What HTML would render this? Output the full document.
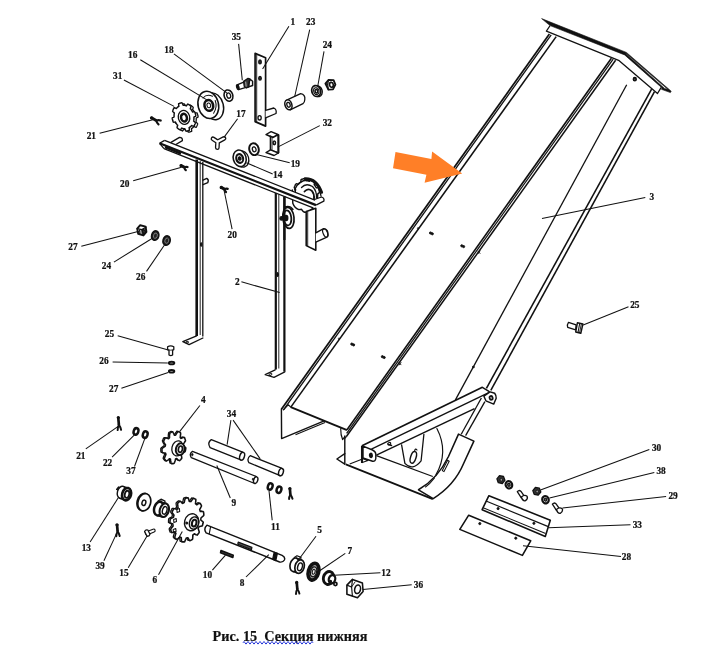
<!DOCTYPE html>
<html><head><meta charset="utf-8"><title>Рис. 15 Секция нижняя</title>
<style>
html,body{margin:0;padding:0;background:#fff;}
body{width:710px;height:649px;overflow:hidden;font-family:"Liberation Serif",serif;}
svg{display:block;}
svg text{font-family:"Liberation Serif",serif;font-weight:bold;fill:#111;}
</style></head><body>
<svg width="710" height="649" viewBox="0 0 710 649">
<defs><filter id="gs" x="-5%" y="-50%" width="110%" height="200%" color-interpolation-filters="sRGB"><feColorMatrix type="saturate" values="0"/></filter></defs>
<rect width="710" height="649" fill="#fff"/>
<path d="M541.6,18.6 L626.4,52.4 L671.2,91.2 L670.4,92.6 L661.4,89.3 L662.0,87.9 L624.6,54.9 L550.0,25.6 Z M626.0,54.0 L664.5,88.4 L668.0,89.6 L625.8,53.2 Z" fill="#111" fill-rule="evenodd" stroke="#111" stroke-width="0.6" stroke-linejoin="round"/>
<path d="M549.8,26.0 L546.4,31.1 L618.6,60.3 L657.5,93.5 L660.9,87.8" fill="none" stroke="#111" stroke-width="1.3" stroke-linejoin="round" stroke-linecap="round"/>
<line x1="549.4" y1="34.1" x2="281.4" y2="409.2" stroke="#111" stroke-width="1.76"/>
<line x1="551.2" y1="34.8" x2="283.5" y2="409.9" stroke="#111" stroke-width="1.3"/>
<line x1="556.2" y1="36.6" x2="290.8" y2="407.1" stroke="#111" stroke-width="1.56"/>
<line x1="611.4" y1="58.2" x2="347.0" y2="429.7" stroke="#111" stroke-width="1.62"/>
<line x1="613.2" y1="59.1" x2="346.6" y2="433.3" stroke="#111" stroke-width="1.23"/>
<line x1="615.6" y1="60.3" x2="346.2" y2="436.8" stroke="#111" stroke-width="1.49"/>
<line x1="626.7" y1="84.7" x2="455.3" y2="400.1" stroke="#111" stroke-width="1.3"/>
<line x1="651.6" y1="89.1" x2="486.4" y2="388.3" stroke="#111" stroke-width="1.56"/>
<line x1="654.5" y1="91.6" x2="490.8" y2="390.3" stroke="#111" stroke-width="1.56"/>
<ellipse cx="634.8" cy="79.2" rx="1.4" ry="1.6" transform="rotate(0 634.8 79.2)" fill="#666" stroke="#111" stroke-width="1.56"/>
<path d="M281.4,409.2 L281.6,438.6 L324.2,420.9" fill="none" stroke="#111" stroke-width="1.43" stroke-linejoin="round" stroke-linecap="round"/>
<path d="M283.4,409.9 L288.2,404.8 L290.8,407.1" fill="none" stroke="#111" stroke-width="1.17" stroke-linejoin="round" stroke-linecap="round"/>
<line x1="290.8" y1="407.1" x2="347.0" y2="430.1" stroke="#111" stroke-width="1.95"/>
<line x1="295.5" y1="434.8" x2="325.0" y2="422.6" stroke="#111" stroke-width="1.04"/>
<path d="M340.7,428.6 Q340.6,435 342.6,439.6 L344.8,436.6" fill="none" stroke="#111" stroke-width="1.17" stroke-linejoin="round" stroke-linecap="round"/>
<line x1="344.8" y1="435.5" x2="344.8" y2="464.4" stroke="#111" stroke-width="1.43"/>
<line x1="346.2" y1="436.8" x2="344.8" y2="438.5" stroke="#111" stroke-width="1.17"/>
<path d="M344.8,453.6 L336.9,459.0 L344.8,464.2" fill="none" stroke="#111" stroke-width="1.43" stroke-linejoin="round" stroke-linecap="round"/>
<line x1="345.8" y1="464.4" x2="432.8" y2="499.1" stroke="#111" stroke-width="1.69"/>
<line x1="349.7" y1="464.0" x2="362.5" y2="459.0" stroke="#111" stroke-width="1.17"/>
<line x1="376.4" y1="455.6" x2="432.8" y2="476.5" stroke="#111" stroke-width="1.3"/>
<path d="M362.2,462.6 L368.0,460.5 L362.2,458.5" fill="none" stroke="#111" stroke-width="1.04" stroke-linejoin="round" stroke-linecap="round"/>
<line x1="362.0" y1="445.7" x2="482.4" y2="387.3" stroke="#111" stroke-width="1.69"/>
<line x1="371.4" y1="449.2" x2="489.3" y2="392.3" stroke="#111" stroke-width="1.3"/>
<line x1="376.4" y1="455.1" x2="474.5" y2="408.6" stroke="#111" stroke-width="1.43"/>
<line x1="362.0" y1="445.7" x2="362.0" y2="463.0" stroke="#111" stroke-width="2.08"/>
<path d="M363.0,446.2 L372.5,450.0 Q375.6,451.4 375.8,454.0 L375.8,458.5 Q375.4,461.6 372.6,461.2 L363.0,458.0 Z" fill="#fff" stroke="#111" stroke-width="1.43" stroke-linejoin="round" stroke-linecap="round"/>
<ellipse cx="370.9" cy="455.4" rx="1.3" ry="2.0" transform="rotate(-10 370.9 455.4)" fill="#111" stroke="#111" stroke-width="1.56"/>
<ellipse cx="389.2" cy="443.7" rx="1.6" ry="1.1" transform="rotate(-25 389.2 443.7)" fill="none" stroke="#111" stroke-width="1.17"/>
<path d="M388.6,444.6 L391.5,445.4" fill="none" stroke="#111" stroke-width="1.56" stroke-linejoin="round" stroke-linecap="round"/>
<path d="M482.4,387.3 L489.3,391.6 L494.7,393.2 Q496.4,395.5 496.2,398.2 L493.7,404.1 L485.9,400.8 L483.9,396.2 L489.3,392.3" fill="#fff" stroke="#111" stroke-width="1.43" stroke-linejoin="round" stroke-linecap="round"/>
<ellipse cx="491.1" cy="397.9" rx="1.5" ry="1.9" transform="rotate(-15 491.1 397.9)" fill="none" stroke="#111" stroke-width="1.82"/>
<line x1="481.4" y1="398.0" x2="461.2" y2="434.2" stroke="#111" stroke-width="1.3"/>
<line x1="484.9" y1="401.6" x2="465.6" y2="435.6" stroke="#111" stroke-width="1.3"/>
<path d="M458.5,434.1 L473.9,441.1 L463.5,463.8 C457.5,478 447,490 433.2,498.6 L418.5,489.8 C432,482 442,470 448.5,456.5 Z" fill="#fff" stroke="#111" stroke-width="1.56" stroke-linejoin="round" stroke-linecap="round"/>
<path d="M442.3,470.6 L447.6,460.3 L449.2,461.2 L444.0,471.6 Z" fill="#fff" stroke="#111" stroke-width="1.04" stroke-linejoin="round" stroke-linecap="round"/>
<path d="M436.9,428.5 Q449,452 435.9,474.9" fill="none" stroke="#111" stroke-width="1.17" stroke-linejoin="round" stroke-linecap="round"/>
<path d="M434.5,478.0 Q430,484 425.5,487.0" fill="none" stroke="#111" stroke-width="1.04" stroke-linejoin="round" stroke-linecap="round"/>
<path d="M401.6,444.8 L404.9,463.4 Q412.5,471.5 421.1,460.8 L423.9,434.3" fill="none" stroke="#111" stroke-width="1.3" stroke-linejoin="round" stroke-linecap="round"/>
<ellipse cx="413.3" cy="457.4" rx="2.7" ry="6.0" transform="rotate(18 413.3 457.4)" fill="none" stroke="#111" stroke-width="1.43"/>
<path d="M414.6,451.0 Q415.2,447.8 417.0,450.0" fill="none" stroke="#111" stroke-width="1.17" stroke-linejoin="round" stroke-linecap="round"/>
<ellipse cx="430.5" cy="233.0" rx="1.1" ry="1.1" transform="rotate(0 430.5 233.0)" fill="#111" stroke="#111" stroke-width="0.91"/>
<ellipse cx="432.3" cy="233.8" rx="1.1" ry="1.1" transform="rotate(0 432.3 233.8)" fill="#111" stroke="#111" stroke-width="0.91"/>
<ellipse cx="461.8" cy="245.8" rx="1.1" ry="1.1" transform="rotate(0 461.8 245.8)" fill="#111" stroke="#111" stroke-width="0.91"/>
<ellipse cx="463.6" cy="246.6" rx="1.1" ry="1.1" transform="rotate(0 463.6 246.6)" fill="#111" stroke="#111" stroke-width="0.91"/>
<ellipse cx="351.8" cy="344.1" rx="1.1" ry="1.1" transform="rotate(0 351.8 344.1)" fill="#111" stroke="#111" stroke-width="0.91"/>
<ellipse cx="353.6" cy="344.9" rx="1.1" ry="1.1" transform="rotate(0 353.6 344.9)" fill="#111" stroke="#111" stroke-width="0.91"/>
<ellipse cx="382.4" cy="356.7" rx="1.1" ry="1.1" transform="rotate(0 382.4 356.7)" fill="#111" stroke="#111" stroke-width="0.91"/>
<ellipse cx="384.2" cy="357.5" rx="1.1" ry="1.1" transform="rotate(0 384.2 357.5)" fill="#111" stroke="#111" stroke-width="0.91"/>
<ellipse cx="418.1" cy="228.4" rx="0.7" ry="0.9" transform="rotate(0 418.1 228.4)" fill="none" stroke="#111" stroke-width="0.78"/>
<ellipse cx="339.0" cy="338.8" rx="0.7" ry="0.9" transform="rotate(0 339.0 338.8)" fill="none" stroke="#111" stroke-width="0.78"/>
<path d="M478.0,251.2 L480.0,253.4 M480.0,251.0 L478.2,253.6" fill="none" stroke="#111" stroke-width="0.91" stroke-linejoin="round" stroke-linecap="round"/>
<path d="M399.0,362.6 L401.0,364.8 M401.0,362.4 L399.2,365.0" fill="none" stroke="#111" stroke-width="0.91" stroke-linejoin="round" stroke-linecap="round"/>
<ellipse cx="473.4" cy="367.0" rx="0.8" ry="0.8" transform="rotate(0 473.4 367.0)" fill="#111" stroke="#111" stroke-width="1.04"/>
<path d="M395.5,152.1 L431.4,158.9 L432.1,151.4 L462.2,173.5 L424.6,182.7 L426.4,174.7 L393.0,168.2 Z" fill="#ff7f27"/>
<path d="M319.2,190.8 L319.3,191.2 L319.4,191.5 L319.4,191.9 L319.5,192.2 L319.3,192.6 L318.8,193.0 L318.4,193.4 L317.9,193.7 L317.8,194.0 L317.8,194.3 L317.8,194.6 L317.7,194.9 L317.7,195.3 L317.7,195.6 L317.7,195.9 L317.6,196.2 L317.6,196.5 L317.5,196.8 L317.5,197.1 L317.4,197.4 L317.6,197.8 L318.0,198.3 L318.3,198.8 L318.7,199.3 L318.7,199.7 L318.6,200.1 L318.4,200.4 L318.3,200.7 L318.2,201.0 L318.0,201.4 L317.9,201.7 L317.7,202.0 L317.5,202.3 L317.4,202.6 L317.2,202.8 L317.0,203.1 L316.6,203.2 L316.0,203.1 L315.5,203.0 L314.9,202.8 L314.6,202.9 L314.4,203.1 L314.2,203.3 L314.0,203.5 L313.8,203.7 L313.6,203.9 L313.4,204.1 L313.2,204.3 L312.9,204.4 L312.7,204.6 L312.5,204.8 L312.2,204.9 L312.1,205.3 L312.1,205.9 L312.0,206.6 L312.0,207.2 L311.7,207.5 L311.5,207.6 L311.2,207.7 L310.9,207.8 L310.5,207.9 L310.2,208.0 L309.9,208.1 L309.6,208.2 L309.3,208.2 L309.0,208.3 L308.7,208.3 L308.4,208.4 L308.0,208.1 L307.7,207.6 L307.3,207.0 L307.0,206.5 L306.7,206.3 L306.4,206.3 L306.2,206.3 L305.9,206.2 L305.6,206.2 L305.3,206.2 L305.1,206.1 L304.8,206.0 L304.5,206.0 L304.2,205.9 L304.0,205.8 L303.7,205.7 L303.4,205.9 L303.0,206.3 L302.5,206.7 L302.1,207.0 L301.7,207.1 L301.4,206.9 L301.1,206.7 L300.8,206.6 L300.6,206.4 L300.3,206.2 L300.0,206.0 L299.7,205.8 L299.4,205.6 L299.2,205.4 L298.9,205.1 L298.6,204.9 L298.5,204.4 L298.6,203.8 L298.7,203.2 L298.8,202.6 L298.7,202.2 L298.5,202.0 L298.3,201.7 L298.1,201.5 L297.9,201.2 L297.8,201.0 L297.6,200.7 L297.4,200.5 L297.3,200.2 L297.1,199.9 L297.0,199.7 L296.8,199.4 L296.5,199.2 L295.9,199.2 L295.3,199.1 L294.8,198.9 L294.5,198.7 L294.4,198.3 L294.3,198.0 L294.2,197.6 L294.0,197.3 L294.0,196.9 L293.9,196.6 L293.8,196.2 L293.7,195.8 L293.6,195.5 L293.6,195.1 L293.5,194.8 L293.7,194.4 L294.2,194.0 L294.6,193.6 L295.1,193.3 L295.2,193.0 L295.2,192.7 L295.2,192.4 L295.3,192.1 L295.3,191.7 L295.3,191.4 L295.3,191.1 L295.4,190.8 L295.4,190.5 L295.5,190.2 L295.5,189.9 L295.6,189.6 L295.4,189.2 L295.0,188.7 L294.7,188.2 L294.3,187.7 L294.3,187.3 L294.4,186.9 L294.6,186.6 L294.7,186.3 L294.8,186.0 L295.0,185.6 L295.1,185.3 L295.3,185.0 L295.5,184.7 L295.6,184.4 L295.8,184.2 L296.0,183.9 L296.4,183.8 L297.0,183.9 L297.5,184.0 L298.1,184.2 L298.4,184.1 L298.6,183.9 L298.8,183.7 L299.0,183.5 L299.2,183.3 L299.4,183.1 L299.6,182.9 L299.8,182.7 L300.1,182.6 L300.3,182.4 L300.5,182.2 L300.8,182.1 L300.9,181.7 L300.9,181.1 L301.0,180.4 L301.0,179.8 L301.3,179.5 L301.5,179.4 L301.8,179.3 L302.1,179.2 L302.5,179.1 L302.8,179.0 L303.1,178.9 L303.4,178.8 L303.7,178.8 L304.0,178.7 L304.3,178.7 L304.6,178.6 L305.0,178.9 L305.3,179.4 L305.7,180.0 L306.0,180.5 L306.3,180.7 L306.6,180.7 L306.8,180.7 L307.1,180.8 L307.4,180.8 L307.7,180.8 L307.9,180.9 L308.2,181.0 L308.5,181.0 L308.8,181.1 L309.0,181.2 L309.3,181.3 L309.6,181.1 L310.0,180.7 L310.5,180.3 L310.9,180.0 L311.3,179.9 L311.6,180.1 L311.9,180.3 L312.2,180.4 L312.4,180.6 L312.7,180.8 L313.0,181.0 L313.3,181.2 L313.6,181.4 L313.8,181.6 L314.1,181.9 L314.4,182.1 L314.5,182.6 L314.4,183.2 L314.3,183.8 L314.2,184.4 L314.3,184.8 L314.5,185.0 L314.7,185.3 L314.9,185.5 L315.1,185.8 L315.2,186.0 L315.4,186.3 L315.6,186.5 L315.7,186.8 L315.9,187.1 L316.0,187.3 L316.2,187.6 L316.5,187.8 L317.1,187.8 L317.7,187.9 L318.2,188.1 L318.5,188.3 L318.6,188.7 L318.7,189.0 L318.8,189.4 L319.0,189.7 L319.0,190.1 L319.1,190.4 Z" fill="#fff" stroke="#111" stroke-width="1.43" stroke-linejoin="round" stroke-linecap="round"/>
<path d="M294.5,190 Q298,180.5 308,180 Q318.5,181.5 321.0,196" fill="none" stroke="#111" stroke-width="1.3" stroke-linejoin="round" stroke-linecap="round"/>
<path d="M305.0,178.6 Q316.5,178.0 321.8,192.5" fill="none" stroke="#111" stroke-width="2.6" stroke-linejoin="round" stroke-linecap="round"/>
<path d="M301.5,187.5 Q306,182.5 312.5,186.5 Q317,191 316.5,198" fill="none" stroke="#111" stroke-width="1.3" stroke-linejoin="round" stroke-linecap="round"/>
<path d="M304.5,191.5 Q308,187.5 312.0,191.0 Q314.5,194 314.0,199" fill="none" stroke="#111" stroke-width="1.82" stroke-linejoin="round" stroke-linecap="round"/>
<path d="M292.3,190.0 L292.8,203.2 Q294.5,207.8 298.8,209.6 L301.5,209.2 Q303.0,212.4 306.0,212.4 L309.0,212.0 Q310.5,209.6 313.4,207.8" fill="#fff" stroke="#111" stroke-width="1.43" stroke-linejoin="round" stroke-linecap="round"/>
<path d="M171.0,142.4 L179.5,137.4 Q182.8,137.6 182.4,140.6 L174.6,145.2" fill="#fff" stroke="#111" stroke-width="1.3" stroke-linejoin="round" stroke-linecap="round"/>
<path d="M159.6,143.3 L164.6,140.4 L318.0,201.3 L316.0,205.1 L313.1,207.9 L164.0,148.6 Z" fill="#fff" stroke="#fff" stroke-width="0.13" stroke-linejoin="round" stroke-linecap="round"/>
<line x1="164.6" y1="140.4" x2="318.0" y2="201.3" stroke="#111" stroke-width="1.3"/>
<line x1="159.6" y1="143.3" x2="316.0" y2="205.1" stroke="#111" stroke-width="2.21"/>
<line x1="164.0" y1="148.6" x2="313.1" y2="207.9" stroke="#111" stroke-width="1.3"/>
<line x1="159.6" y1="143.3" x2="164.6" y2="140.4" stroke="#111" stroke-width="1.3"/>
<line x1="159.6" y1="143.3" x2="164.0" y2="148.6" stroke="#111" stroke-width="1.3"/>
<line x1="165.0" y1="147.2" x2="181.0" y2="153.6" stroke="#111" stroke-width="2.34"/>
<path d="M314.5,199.5 L321.5,197.0 Q324.8,198.2 323.8,201.2 L316.5,204.8" fill="#fff" stroke="#111" stroke-width="1.3" stroke-linejoin="round" stroke-linecap="round"/>
<line x1="196.7" y1="159.5" x2="196.7" y2="336.0" stroke="#111" stroke-width="2.6"/>
<line x1="200.2" y1="161.0" x2="200.2" y2="335.0" stroke="#111" stroke-width="0.91"/>
<line x1="202.8" y1="162.0" x2="202.8" y2="336.6" stroke="#111" stroke-width="1.3"/>
<path d="M196.6,335.8 L182.8,341.6 L189.1,344.6 L202.9,338.0" fill="none" stroke="#111" stroke-width="1.3" stroke-linejoin="round" stroke-linecap="round"/>
<ellipse cx="187.2" cy="342.3" rx="1.3" ry="0.8" transform="rotate(-20 187.2 342.3)" fill="none" stroke="#111" stroke-width="0.91"/>
<ellipse cx="201.2" cy="244.5" rx="0.7" ry="1.8" transform="rotate(0 201.2 244.5)" fill="#111" stroke="#111" stroke-width="1.04"/>
<path d="M203,180.2 L206.8,178.4 Q209.2,179.8 207.8,182.6 L203,184.6" fill="none" stroke="#111" stroke-width="1.3" stroke-linejoin="round" stroke-linecap="round"/>
<line x1="275.8" y1="193.0" x2="275.8" y2="369.5" stroke="#111" stroke-width="2.21"/>
<line x1="278.8" y1="194.5" x2="278.8" y2="368.5" stroke="#111" stroke-width="0.91"/>
<line x1="284.4" y1="196.5" x2="284.4" y2="371.6" stroke="#111" stroke-width="2.21"/>
<path d="M275.2,369.8 L265.2,374.6 L274.0,377.3 L284.8,371.8" fill="none" stroke="#111" stroke-width="1.3" stroke-linejoin="round" stroke-linecap="round"/>
<ellipse cx="270.5" cy="374.4" rx="1.5" ry="0.9" transform="rotate(-20 270.5 374.4)" fill="none" stroke="#111" stroke-width="0.91"/>
<ellipse cx="277.6" cy="274.5" rx="0.8" ry="2.0" transform="rotate(0 277.6 274.5)" fill="#111" stroke="#111" stroke-width="1.04"/>
<path d="M306.2,211.6 L315.8,208.3 L315.8,250.3 L306.2,245.6 Z" fill="#fff" stroke="#111" stroke-width="1.56" stroke-linejoin="round" stroke-linecap="round"/>
<line x1="307.7" y1="211.4" x2="307.7" y2="246.2" stroke="#111" stroke-width="0.91"/>
<path d="M315.8,232.8 L323.6,228.6 Q328.6,229.6 327.9,235.0 Q327.6,237.0 326.4,237.4 L315.8,242.2" fill="#fff" stroke="#111" stroke-width="1.43" stroke-linejoin="round" stroke-linecap="round"/>
<ellipse cx="325.3" cy="233.0" rx="2.2" ry="4.4" transform="rotate(-22 325.3 233.0)" fill="none" stroke="#111" stroke-width="1.17"/>
<path d="M284.5,207.0 Q290,205.0 293.0,209.5" fill="none" stroke="#111" stroke-width="1.43" stroke-linejoin="round" stroke-linecap="round"/>
<ellipse cx="288.4" cy="217.9" rx="5.6" ry="10.6" transform="rotate(-6 288.4 217.9)" fill="#fff" stroke="#111" stroke-width="1.69"/>
<ellipse cx="287.4" cy="217.9" rx="3.9" ry="7.6" transform="rotate(-6 287.4 217.9)" fill="none" stroke="#111" stroke-width="1.82"/>
<ellipse cx="286.2" cy="218.0" rx="1.6" ry="2.6" transform="rotate(0 286.2 218.0)" fill="#111" stroke="#111" stroke-width="1.3"/>
<ellipse cx="281.6" cy="218.4" rx="1.7" ry="1.7" transform="rotate(0 281.6 218.4)" fill="#111" stroke="#111" stroke-width="1.3"/>
<line x1="284.4" y1="196.5" x2="284.4" y2="240.0" stroke="#111" stroke-width="2.21"/>
<path d="M255.1,53.4 L265.6,57.7 L265.6,126.1 L255.1,121.6 Z" fill="#fff" stroke="#111" stroke-width="1.69" stroke-linejoin="round" stroke-linecap="round"/>
<line x1="256.7" y1="54.5" x2="256.7" y2="122.0" stroke="#111" stroke-width="0.91"/>
<ellipse cx="260.0" cy="61.9" rx="1.3" ry="1.9" transform="rotate(0 260.0 61.9)" fill="#333" stroke="#111" stroke-width="1.3"/>
<ellipse cx="260.0" cy="78.2" rx="1.3" ry="1.9" transform="rotate(0 260.0 78.2)" fill="#333" stroke="#111" stroke-width="1.3"/>
<ellipse cx="259.6" cy="117.8" rx="1.6" ry="2.2" transform="rotate(0 259.6 117.8)" fill="none" stroke="#111" stroke-width="1.3"/>
<path d="M265.6,110.3 L273.8,108.0 Q277.0,109.5 276.0,113.5 L265.6,117.8" fill="#fff" stroke="#111" stroke-width="1.3" stroke-linejoin="round" stroke-linecap="round"/>
<path d="M237.7,84.6 L247.3,80.6 L247.6,86.9 L238.6,89.7 Z" fill="#fff" stroke="#111" stroke-width="1.3" stroke-linejoin="round" stroke-linecap="round"/>
<ellipse cx="237.8" cy="87.1" rx="1.2" ry="2.5" transform="rotate(-15 237.8 87.1)" fill="#111" stroke="#111" stroke-width="1.17"/>
<path d="M243.6,81.4 L248.1,78.3 L249.8,79.0 L248.7,86.9 L246.4,88.0 L244.2,86.2 Z" fill="#333" stroke="#111" stroke-width="1.3" stroke-linejoin="round" stroke-linecap="round"/>
<line x1="245.6" y1="81.6" x2="246.2" y2="86.6" stroke="#aaa" stroke-width="1.04"/>
<path d="M249.8,79.0 L252.6,81.3 L252.6,85.5 L248.7,86.9 Z" fill="#fff" stroke="#111" stroke-width="1.43" stroke-linejoin="round" stroke-linecap="round"/>
<ellipse cx="228.5" cy="95.6" rx="4.3" ry="5.8" transform="rotate(-18 228.5 95.6)" fill="#fff" stroke="#111" stroke-width="1.56"/>
<ellipse cx="228.7" cy="95.6" rx="1.9" ry="2.7" transform="rotate(-18 228.7 95.6)" fill="none" stroke="#111" stroke-width="1.3"/>
<ellipse cx="213.6" cy="106.3" rx="9.8" ry="13.6" transform="rotate(-14 213.6 106.3)" fill="#fff" stroke="#111" stroke-width="1.43"/>
<ellipse cx="208.3" cy="104.9" rx="10.2" ry="13.8" transform="rotate(-14 208.3 104.9)" fill="#fff" stroke="#111" stroke-width="1.56"/>
<path d="M203.0,98.0 Q206.5,93.8 212.5,96.2" fill="none" stroke="#111" stroke-width="1.04" stroke-linejoin="round" stroke-linecap="round"/>
<path d="M215.2,100.5 Q217.6,107 213.6,113.2" fill="none" stroke="#111" stroke-width="1.04" stroke-linejoin="round" stroke-linecap="round"/>
<ellipse cx="208.8" cy="105.4" rx="4.3" ry="5.4" transform="rotate(-14 208.8 105.4)" fill="#fff" stroke="#111" stroke-width="2.6"/>
<ellipse cx="208.8" cy="105.4" rx="1.8" ry="2.4" transform="rotate(-14 208.8 105.4)" fill="none" stroke="#111" stroke-width="1.04"/>
<path d="M197.7,114.9 L197.8,115.3 L197.9,115.6 L197.9,116.0 L198.0,116.3 L198.1,116.7 L198.1,117.0 L197.7,117.4 L196.9,117.7 L196.2,118.1 L196.2,118.3 L196.2,118.6 L196.3,118.9 L196.3,119.2 L196.2,119.5 L196.2,119.8 L196.2,120.1 L196.2,120.4 L196.2,120.6 L196.1,120.9 L196.1,121.2 L196.1,121.5 L196.0,121.8 L195.9,122.0 L196.6,122.6 L197.3,123.3 L197.7,123.8 L197.6,124.1 L197.5,124.5 L197.4,124.8 L197.2,125.1 L197.1,125.4 L197.0,125.7 L196.9,126.0 L196.7,126.3 L196.6,126.5 L196.4,126.8 L196.3,127.1 L196.1,127.4 L195.5,127.2 L194.7,126.8 L194.0,126.4 L193.8,126.6 L193.7,126.8 L193.5,127.0 L193.3,127.2 L193.1,127.4 L193.0,127.5 L192.8,127.7 L192.6,127.9 L192.4,128.0 L192.2,128.2 L192.0,128.3 L191.8,128.5 L191.6,128.6 L191.4,128.7 L191.6,129.7 L191.7,130.7 L191.7,131.3 L191.4,131.4 L191.1,131.5 L190.9,131.6 L190.6,131.7 L190.3,131.8 L190.0,131.9 L189.7,132.0 L189.5,132.0 L189.2,132.1 L188.9,132.1 L188.6,132.2 L188.3,132.2 L188.0,131.7 L187.6,130.7 L187.2,129.8 L187.0,129.8 L186.8,129.8 L186.5,129.8 L186.3,129.8 L186.0,129.7 L185.8,129.7 L185.5,129.6 L185.3,129.6 L185.1,129.5 L184.8,129.5 L184.6,129.4 L184.3,129.3 L184.1,129.2 L183.9,129.1 L183.4,129.9 L182.9,130.6 L182.5,131.0 L182.2,130.8 L182.0,130.7 L181.7,130.5 L181.4,130.4 L181.1,130.2 L180.9,130.0 L180.6,129.8 L180.4,129.6 L180.1,129.4 L179.9,129.2 L179.6,129.0 L179.4,128.7 L179.4,128.1 L179.7,127.2 L180.0,126.3 L179.8,126.1 L179.6,125.9 L179.4,125.7 L179.2,125.5 L179.1,125.2 L178.9,125.0 L178.7,124.8 L178.6,124.5 L178.4,124.3 L178.3,124.0 L178.1,123.8 L178.0,123.5 L177.9,123.3 L177.7,123.0 L177.0,123.1 L176.1,123.2 L175.6,123.1 L175.4,122.7 L175.3,122.4 L175.2,122.1 L175.1,121.7 L175.0,121.4 L174.9,121.1 L174.8,120.7 L174.7,120.4 L174.7,120.0 L174.6,119.7 L174.5,119.3 L174.5,119.0 L174.9,118.6 L175.7,118.3 L176.4,117.9 L176.4,117.7 L176.4,117.4 L176.3,117.1 L176.3,116.8 L176.4,116.5 L176.4,116.2 L176.4,115.9 L176.4,115.6 L176.4,115.4 L176.5,115.1 L176.5,114.8 L176.5,114.5 L176.6,114.2 L176.7,114.0 L176.0,113.4 L175.3,112.7 L174.9,112.2 L175.0,111.9 L175.1,111.5 L175.2,111.2 L175.4,110.9 L175.5,110.6 L175.6,110.3 L175.7,110.0 L175.9,109.7 L176.0,109.5 L176.2,109.2 L176.3,108.9 L176.5,108.6 L177.1,108.8 L177.9,109.2 L178.6,109.6 L178.8,109.4 L178.9,109.2 L179.1,109.0 L179.3,108.8 L179.5,108.6 L179.6,108.5 L179.8,108.3 L180.0,108.1 L180.2,108.0 L180.4,107.8 L180.6,107.7 L180.8,107.5 L181.0,107.4 L181.2,107.3 L181.0,106.3 L180.9,105.3 L180.9,104.7 L181.2,104.6 L181.5,104.5 L181.7,104.4 L182.0,104.3 L182.3,104.2 L182.6,104.1 L182.9,104.0 L183.1,104.0 L183.4,103.9 L183.7,103.9 L184.0,103.8 L184.3,103.8 L184.6,104.3 L185.0,105.3 L185.4,106.2 L185.6,106.2 L185.8,106.2 L186.1,106.2 L186.3,106.2 L186.6,106.3 L186.8,106.3 L187.1,106.4 L187.3,106.4 L187.5,106.5 L187.8,106.5 L188.0,106.6 L188.3,106.7 L188.5,106.8 L188.7,106.9 L189.2,106.1 L189.7,105.4 L190.1,105.0 L190.4,105.2 L190.6,105.3 L190.9,105.5 L191.2,105.6 L191.5,105.8 L191.7,106.0 L192.0,106.2 L192.2,106.4 L192.5,106.6 L192.7,106.8 L193.0,107.0 L193.2,107.3 L193.2,107.9 L192.9,108.8 L192.6,109.7 L192.8,109.9 L193.0,110.1 L193.2,110.3 L193.4,110.5 L193.5,110.8 L193.7,111.0 L193.9,111.2 L194.0,111.5 L194.2,111.7 L194.3,112.0 L194.5,112.2 L194.6,112.5 L194.7,112.7 L194.9,113.0 L195.6,112.9 L196.5,112.8 L197.0,112.9 L197.2,113.3 L197.3,113.6 L197.4,113.9 L197.5,114.3 L197.6,114.6 Z" fill="#fff" stroke="#111" stroke-width="1.3" stroke-linejoin="round" stroke-linecap="round"/>
<path d="M195.4,113.9 L195.5,114.3 L195.6,114.6 L195.6,115.0 L195.7,115.3 L195.8,115.7 L195.8,116.0 L195.4,116.4 L194.6,116.7 L193.9,117.1 L193.9,117.3 L193.9,117.6 L194.0,117.9 L194.0,118.2 L193.9,118.5 L193.9,118.8 L193.9,119.1 L193.9,119.4 L193.9,119.6 L193.8,119.9 L193.8,120.2 L193.8,120.5 L193.7,120.8 L193.6,121.0 L194.3,121.6 L195.0,122.3 L195.4,122.8 L195.3,123.1 L195.2,123.5 L195.1,123.8 L194.9,124.1 L194.8,124.4 L194.7,124.7 L194.6,125.0 L194.4,125.3 L194.3,125.5 L194.1,125.8 L194.0,126.1 L193.8,126.4 L193.2,126.2 L192.4,125.8 L191.7,125.4 L191.5,125.6 L191.4,125.8 L191.2,126.0 L191.0,126.2 L190.8,126.4 L190.7,126.5 L190.5,126.7 L190.3,126.9 L190.1,127.0 L189.9,127.2 L189.7,127.3 L189.5,127.5 L189.3,127.6 L189.1,127.7 L189.3,128.7 L189.4,129.7 L189.4,130.3 L189.1,130.4 L188.8,130.5 L188.6,130.6 L188.3,130.7 L188.0,130.8 L187.7,130.9 L187.4,131.0 L187.2,131.0 L186.9,131.1 L186.6,131.1 L186.3,131.2 L186.0,131.2 L185.7,130.7 L185.3,129.7 L184.9,128.8 L184.7,128.8 L184.5,128.8 L184.2,128.8 L184.0,128.8 L183.7,128.7 L183.5,128.7 L183.2,128.6 L183.0,128.6 L182.8,128.5 L182.5,128.5 L182.3,128.4 L182.0,128.3 L181.8,128.2 L181.6,128.1 L181.1,128.9 L180.6,129.6 L180.2,130.0 L179.9,129.8 L179.7,129.7 L179.4,129.5 L179.1,129.4 L178.8,129.2 L178.6,129.0 L178.3,128.8 L178.1,128.6 L177.8,128.4 L177.6,128.2 L177.3,128.0 L177.1,127.7 L177.1,127.1 L177.4,126.2 L177.7,125.3 L177.5,125.1 L177.3,124.9 L177.1,124.7 L176.9,124.5 L176.8,124.2 L176.6,124.0 L176.4,123.8 L176.3,123.5 L176.1,123.3 L176.0,123.0 L175.8,122.8 L175.7,122.5 L175.6,122.3 L175.4,122.0 L174.7,122.1 L173.8,122.2 L173.3,122.1 L173.1,121.7 L173.0,121.4 L172.9,121.1 L172.8,120.7 L172.7,120.4 L172.6,120.1 L172.5,119.7 L172.4,119.4 L172.4,119.0 L172.3,118.7 L172.2,118.3 L172.2,118.0 L172.6,117.6 L173.4,117.3 L174.1,116.9 L174.1,116.7 L174.1,116.4 L174.0,116.1 L174.0,115.8 L174.1,115.5 L174.1,115.2 L174.1,114.9 L174.1,114.6 L174.1,114.4 L174.2,114.1 L174.2,113.8 L174.2,113.5 L174.3,113.2 L174.4,113.0 L173.7,112.4 L173.0,111.7 L172.6,111.2 L172.7,110.9 L172.8,110.5 L172.9,110.2 L173.1,109.9 L173.2,109.6 L173.3,109.3 L173.4,109.0 L173.6,108.7 L173.7,108.5 L173.9,108.2 L174.0,107.9 L174.2,107.6 L174.8,107.8 L175.6,108.2 L176.3,108.6 L176.5,108.4 L176.6,108.2 L176.8,108.0 L177.0,107.8 L177.2,107.6 L177.3,107.5 L177.5,107.3 L177.7,107.1 L177.9,107.0 L178.1,106.8 L178.3,106.7 L178.5,106.5 L178.7,106.4 L178.9,106.3 L178.7,105.3 L178.6,104.3 L178.6,103.7 L178.9,103.6 L179.2,103.5 L179.4,103.4 L179.7,103.3 L180.0,103.2 L180.3,103.1 L180.6,103.0 L180.8,103.0 L181.1,102.9 L181.4,102.9 L181.7,102.8 L182.0,102.8 L182.3,103.3 L182.7,104.3 L183.1,105.2 L183.3,105.2 L183.5,105.2 L183.8,105.2 L184.0,105.2 L184.3,105.3 L184.5,105.3 L184.8,105.4 L185.0,105.4 L185.2,105.5 L185.5,105.5 L185.7,105.6 L186.0,105.7 L186.2,105.8 L186.4,105.9 L186.9,105.1 L187.4,104.4 L187.8,104.0 L188.1,104.2 L188.3,104.3 L188.6,104.5 L188.9,104.6 L189.2,104.8 L189.4,105.0 L189.7,105.2 L189.9,105.4 L190.2,105.6 L190.4,105.8 L190.7,106.0 L190.9,106.3 L190.9,106.9 L190.6,107.8 L190.3,108.7 L190.5,108.9 L190.7,109.1 L190.9,109.3 L191.1,109.5 L191.2,109.8 L191.4,110.0 L191.6,110.2 L191.7,110.5 L191.9,110.7 L192.0,111.0 L192.2,111.2 L192.3,111.5 L192.4,111.7 L192.6,112.0 L193.3,111.9 L194.2,111.8 L194.7,111.9 L194.9,112.3 L195.0,112.6 L195.1,112.9 L195.2,113.3 L195.3,113.6 Z" fill="#fff" stroke="#111" stroke-width="1.43" stroke-linejoin="round" stroke-linecap="round"/>
<ellipse cx="184.0" cy="117.4" rx="5.7" ry="7.0" transform="rotate(-15 184.0 117.4)" fill="none" stroke="#111" stroke-width="1.3"/>
<ellipse cx="184.0" cy="117.7" rx="2.9" ry="3.9" transform="rotate(-15 184.0 117.7)" fill="none" stroke="#111" stroke-width="2.47"/>
<line x1="151.0" y1="117.5" x2="156.2" y2="120.5" stroke="#111" stroke-width="2.99"/>
<path d="M156.2,120.5 Q156.9,123.2 158.5,124.4" fill="none" stroke="#111" stroke-width="2.21" stroke-linejoin="round" stroke-linecap="round"/>
<path d="M156.2,120.5 Q158.9,119.8 160.7,120.6" fill="none" stroke="#111" stroke-width="2.21" stroke-linejoin="round" stroke-linecap="round"/>
<ellipse cx="151.5" cy="117.8" rx="1.1" ry="1.1" transform="rotate(0 151.5 117.8)" fill="#111" stroke="#111" stroke-width="1.04"/>
<line x1="180.5" y1="165.3" x2="184.2" y2="167.2" stroke="#111" stroke-width="2.99"/>
<path d="M184.2,167.2 Q184.7,169.3 185.8,170.1" fill="none" stroke="#111" stroke-width="2.21" stroke-linejoin="round" stroke-linecap="round"/>
<path d="M184.2,167.2 Q186.2,166.5 187.5,167.0" fill="none" stroke="#111" stroke-width="2.21" stroke-linejoin="round" stroke-linecap="round"/>
<ellipse cx="181.0" cy="165.5" rx="1.1" ry="1.1" transform="rotate(0 181.0 165.5)" fill="#111" stroke="#111" stroke-width="1.04"/>
<line x1="220.7" y1="187.2" x2="224.4" y2="189.1" stroke="#111" stroke-width="2.99"/>
<path d="M224.4,189.1 Q224.9,191.2 226.0,192.0" fill="none" stroke="#111" stroke-width="2.21" stroke-linejoin="round" stroke-linecap="round"/>
<path d="M224.4,189.1 Q226.4,188.4 227.7,188.9" fill="none" stroke="#111" stroke-width="2.21" stroke-linejoin="round" stroke-linecap="round"/>
<ellipse cx="221.2" cy="187.4" rx="1.1" ry="1.1" transform="rotate(0 221.2 187.4)" fill="#111" stroke="#111" stroke-width="1.04"/>
<path d="M213.0,138.8 L217.6,141.8 L217.3,147.6 M217.6,141.8 L224.0,138.4" fill="none" stroke="#111" stroke-width="4.8" stroke-linecap="round" stroke-linejoin="round"/>
<path d="M213.0,138.8 L217.6,141.8 L217.3,147.6 M217.6,141.8 L224.0,138.4" fill="none" stroke="#fff" stroke-width="2.2" stroke-linecap="round" stroke-linejoin="round"/>
<ellipse cx="242.5" cy="159.0" rx="6.2" ry="8.2" transform="rotate(-15 242.5 159.0)" fill="#fff" stroke="#111" stroke-width="1.3"/>
<ellipse cx="239.7" cy="158.3" rx="6.4" ry="8.4" transform="rotate(-15 239.7 158.3)" fill="#fff" stroke="#111" stroke-width="1.56"/>
<ellipse cx="239.7" cy="158.5" rx="3.4" ry="4.4" transform="rotate(-15 239.7 158.5)" fill="none" stroke="#111" stroke-width="2.08"/>
<ellipse cx="239.7" cy="158.5" rx="1.3" ry="1.7" transform="rotate(-15 239.7 158.5)" fill="#111" stroke="#111" stroke-width="1.3"/>
<ellipse cx="254.0" cy="149.2" rx="4.7" ry="6.0" transform="rotate(-15 254.0 149.2)" fill="#fff" stroke="#111" stroke-width="1.95"/>
<ellipse cx="254.2" cy="149.3" rx="1.8" ry="2.5" transform="rotate(-15 254.2 149.3)" fill="none" stroke="#111" stroke-width="1.3"/>
<path d="M266.0,134.5 L271.1,131.6 L277.9,134.5 L272.8,137.5 Z" fill="#fff" stroke="#111" stroke-width="1.43" stroke-linejoin="round" stroke-linecap="round"/>
<path d="M270.4,136.2 L270.4,150.2 L278.4,153.0 L278.4,134.6 L272.8,137.5 Z" fill="#fff" stroke="#111" stroke-width="1.43" stroke-linejoin="round" stroke-linecap="round"/>
<line x1="278.4" y1="134.6" x2="278.4" y2="153.0" stroke="#111" stroke-width="1.95"/>
<line x1="272.0" y1="137.4" x2="272.0" y2="150.4" stroke="#111" stroke-width="0.91"/>
<path d="M266.0,152.5 L270.6,149.9 L278.4,153.0 L274.1,155.5 Z" fill="#fff" stroke="#111" stroke-width="1.43" stroke-linejoin="round" stroke-linecap="round"/>
<ellipse cx="274.3" cy="142.8" rx="1.2" ry="1.8" transform="rotate(0 274.3 142.8)" fill="none" stroke="#111" stroke-width="1.56"/>
<path d="M287.2,99.8 L300.6,93.6 Q305.5,94.5 304.8,99.5 Q304.6,102.8 303.0,103.6 L290.2,109.8" fill="#fff" stroke="#111" stroke-width="1.3" stroke-linejoin="round" stroke-linecap="round"/>
<ellipse cx="288.4" cy="104.8" rx="3.4" ry="5.1" transform="rotate(-18 288.4 104.8)" fill="#fff" stroke="#111" stroke-width="1.56"/>
<ellipse cx="288.5" cy="104.8" rx="1.6" ry="2.5" transform="rotate(-18 288.5 104.8)" fill="none" stroke="#111" stroke-width="1.3"/>
<ellipse cx="317.9" cy="91.3" rx="4.3" ry="5.4" transform="rotate(-15 317.9 91.3)" fill="#fff" stroke="#111" stroke-width="1.43"/>
<ellipse cx="316.2" cy="91.0" rx="4.4" ry="5.5" transform="rotate(-15 316.2 91.0)" fill="#fff" stroke="#111" stroke-width="1.82"/>
<ellipse cx="316.3" cy="91.1" rx="2.6" ry="3.4" transform="rotate(-15 316.3 91.1)" fill="none" stroke="#111" stroke-width="1.04"/>
<ellipse cx="316.4" cy="91.2" rx="1.3" ry="1.8" transform="rotate(-15 316.4 91.2)" fill="none" stroke="#111" stroke-width="1.56"/>
<path d="M325.4,83.6 L328.6,79.8 L333.6,80.2 L335.4,84.6 L333.0,89.4 L328.4,89.6 Z" fill="#fff" stroke="#111" stroke-width="1.82" stroke-linejoin="round" stroke-linecap="round"/>
<path d="M328.6,79.8 L327.6,84.4 L328.4,89.6" fill="none" stroke="#111" stroke-width="1.17" stroke-linejoin="round" stroke-linecap="round"/>
<line x1="325.4" y1="83.6" x2="327.6" y2="84.4" stroke="#111" stroke-width="1.17"/>
<ellipse cx="331.4" cy="84.8" rx="1.9" ry="2.5" transform="rotate(-12 331.4 84.8)" fill="none" stroke="#111" stroke-width="1.69"/>
<path d="M137.2,228.6 L140.2,225.2 L145.6,226.6 L146.4,231.8 L143.4,235.4 L138.2,233.8 Z" fill="#fff" stroke="#111" stroke-width="1.95" stroke-linejoin="round" stroke-linecap="round"/>
<path d="M137.2,228.6 L141.8,229.6 L146.0,227.2" fill="none" stroke="#111" stroke-width="1.3" stroke-linejoin="round" stroke-linecap="round"/>
<line x1="141.8" y1="229.6" x2="142.4" y2="234.8" stroke="#111" stroke-width="1.3"/>
<ellipse cx="144.0" cy="231.6" rx="1.3" ry="1.9" transform="rotate(-15 144.0 231.6)" fill="#444" stroke="#111" stroke-width="1.56"/>
<line x1="139.6" y1="229.6" x2="140.0" y2="233.8" stroke="#111" stroke-width="1.3"/>
<ellipse cx="155.2" cy="235.6" rx="3.5" ry="4.7" transform="rotate(15 155.2 235.6)" fill="#222" stroke="#111" stroke-width="1.69"/>
<ellipse cx="155.4" cy="235.7" rx="1.9" ry="2.7" transform="rotate(15 155.4 235.7)" fill="none" stroke="#999" stroke-width="0.65"/>
<ellipse cx="166.6" cy="240.6" rx="3.5" ry="4.7" transform="rotate(15 166.6 240.6)" fill="#222" stroke="#111" stroke-width="1.69"/>
<ellipse cx="166.8" cy="240.7" rx="1.9" ry="2.7" transform="rotate(15 166.8 240.7)" fill="none" stroke="#999" stroke-width="0.65"/>
<path d="M167.6,346.8 Q170.7,345.0 173.8,346.8 L173.8,349.6 Q170.7,351.2 167.6,349.6 Z" fill="#fff" stroke="#111" stroke-width="1.3" stroke-linejoin="round" stroke-linecap="round"/>
<path d="M169.0,350.6 L169.0,355.0 Q170.8,356.2 172.6,355.0 L172.6,350.6" fill="#fff" stroke="#111" stroke-width="1.3" stroke-linejoin="round" stroke-linecap="round"/>
<ellipse cx="171.6" cy="363.0" rx="2.7" ry="1.3" transform="rotate(0 171.6 363.0)" fill="#fff" stroke="#111" stroke-width="1.95"/>
<ellipse cx="171.6" cy="371.2" rx="2.7" ry="1.3" transform="rotate(0 171.6 371.2)" fill="#fff" stroke="#111" stroke-width="1.95"/>
<path d="M184.3,449.5 L184.3,449.8 L184.2,450.2 L184.1,450.5 L184.0,450.8 L183.9,451.2 L183.6,451.4 L183.1,451.6 L182.7,451.8 L182.2,451.9 L181.8,452.0 L181.3,452.1 L180.9,452.1 L180.4,452.2 L180.3,452.4 L180.2,452.6 L180.1,452.8 L179.9,453.1 L179.8,453.3 L179.7,453.6 L179.9,454.1 L180.0,454.6 L180.2,455.2 L180.3,455.7 L180.4,456.3 L180.5,456.9 L180.6,457.5 L180.5,458.0 L180.3,458.2 L180.1,458.5 L179.9,458.7 L179.7,459.0 L179.5,459.2 L179.2,459.4 L179.0,459.6 L178.8,459.9 L178.6,460.1 L178.3,460.3 L178.0,460.2 L177.6,460.0 L177.2,459.7 L176.8,459.4 L176.5,459.1 L176.1,458.8 L175.8,458.4 L175.5,458.1 L175.3,458.1 L175.1,458.2 L174.9,458.3 L174.7,458.4 L174.5,458.5 L174.3,458.7 L174.2,459.2 L174.1,459.8 L173.9,460.4 L173.7,461.0 L173.5,461.6 L173.3,462.2 L173.0,462.7 L172.8,463.1 L172.5,463.1 L172.2,463.2 L172.0,463.2 L171.7,463.2 L171.4,463.2 L171.2,463.2 L170.9,463.2 L170.7,463.2 L170.4,463.2 L170.2,463.2 L169.9,462.8 L169.8,462.3 L169.7,461.7 L169.6,461.1 L169.5,460.6 L169.4,460.0 L169.3,459.4 L169.3,458.8 L169.1,458.7 L169.0,458.6 L168.8,458.5 L168.6,458.4 L168.4,458.3 L168.2,458.3 L167.9,458.7 L167.5,459.1 L167.1,459.4 L166.7,459.7 L166.2,460.0 L165.8,460.3 L165.4,460.6 L165.0,460.7 L164.8,460.5 L164.6,460.3 L164.4,460.1 L164.3,459.9 L164.1,459.7 L163.9,459.4 L163.7,459.2 L163.6,459.0 L163.4,458.7 L163.2,458.5 L163.2,458.0 L163.4,457.4 L163.6,456.8 L163.8,456.2 L164.0,455.7 L164.2,455.1 L164.5,454.6 L164.7,454.0 L164.7,453.8 L164.6,453.5 L164.5,453.3 L164.4,453.1 L164.4,452.9 L164.3,452.7 L163.8,452.7 L163.4,452.6 L163.0,452.6 L162.5,452.5 L162.1,452.4 L161.6,452.3 L161.2,452.1 L160.9,451.9 L160.9,451.6 L160.9,451.2 L160.8,450.9 L160.8,450.5 L160.8,450.2 L160.8,449.8 L160.8,449.5 L160.8,449.1 L160.8,448.8 L160.8,448.4 L161.0,448.1 L161.4,447.7 L161.8,447.3 L162.3,447.0 L162.7,446.7 L163.1,446.4 L163.5,446.2 L163.9,445.9 L164.0,445.7 L164.1,445.4 L164.1,445.2 L164.2,444.9 L164.3,444.6 L164.3,444.4 L164.0,444.0 L163.7,443.6 L163.4,443.1 L163.2,442.7 L162.9,442.2 L162.7,441.7 L162.5,441.2 L162.4,440.8 L162.5,440.5 L162.7,440.2 L162.8,439.8 L163.0,439.5 L163.1,439.2 L163.3,438.9 L163.4,438.6 L163.6,438.3 L163.8,438.0 L164.0,437.7 L164.3,437.6 L164.8,437.6 L165.2,437.7 L165.6,437.8 L166.1,437.9 L166.5,438.0 L166.9,438.2 L167.3,438.4 L167.5,438.2 L167.6,438.0 L167.8,437.9 L168.0,437.7 L168.1,437.5 L168.3,437.3 L168.3,436.7 L168.3,436.1 L168.3,435.5 L168.3,434.9 L168.4,434.3 L168.5,433.7 L168.6,433.0 L168.7,432.6 L169.0,432.5 L169.2,432.3 L169.5,432.2 L169.7,432.0 L170.0,431.9 L170.2,431.8 L170.5,431.6 L170.8,431.5 L171.0,431.4 L171.3,431.3 L171.6,431.5 L171.8,432.0 L172.1,432.4 L172.4,432.9 L172.6,433.3 L172.8,433.8 L173.0,434.3 L173.2,434.8 L173.4,434.9 L173.6,434.8 L173.8,434.8 L174.0,434.8 L174.2,434.8 L174.4,434.8 L174.7,434.3 L175.0,433.8 L175.3,433.3 L175.6,432.8 L175.9,432.3 L176.3,431.8 L176.6,431.4 L177.0,431.2 L177.2,431.2 L177.4,431.3 L177.7,431.4 L177.9,431.5 L178.2,431.6 L178.4,431.7 L178.6,431.9 L178.9,432.0 L179.1,432.1 L179.3,432.3 L179.4,432.7 L179.4,433.3 L179.4,434.0 L179.3,434.6 L179.2,435.2 L179.2,435.8 L179.1,436.4 L179.0,437.0 L179.1,437.2 L179.2,437.3 L179.3,437.5 L179.5,437.7 L179.6,437.8 L179.8,438.0 L180.2,437.8 L180.6,437.6 L181.1,437.4 L181.5,437.3 L182.0,437.2 L182.5,437.1 L182.9,437.0 L183.2,437.1 L183.4,437.4 L183.5,437.7 L183.6,438.0 L183.7,438.3 L183.8,438.6 L183.9,438.9 L184.0,439.2 L184.1,439.5 L184.2,439.8 L184.3,440.1 L184.2,440.6 L183.8,441.1 L183.5,441.6 L183.2,442.1 L182.9,442.5 L182.5,443.0 L182.2,443.4 L181.8,443.8 L181.8,444.1 L181.8,444.4 L181.8,444.6 L181.8,444.9 L181.8,445.1 L181.9,445.4 L182.3,445.6 L182.6,445.8 L183.0,446.1 L183.4,446.4 L183.8,446.7 L184.1,447.0 L184.5,447.3 L184.6,447.7 L184.6,448.0 L184.5,448.4 L184.5,448.8 L184.4,449.1 Z" fill="#fff" stroke="#111" stroke-width="1.3" stroke-linejoin="round" stroke-linecap="round"/>
<path d="M185.5,449.9 L185.5,450.2 L185.4,450.6 L185.3,450.9 L185.2,451.2 L185.1,451.6 L184.8,451.8 L184.3,452.0 L183.9,452.2 L183.4,452.3 L183.0,452.4 L182.5,452.5 L182.1,452.5 L181.6,452.6 L181.5,452.8 L181.4,453.0 L181.3,453.2 L181.1,453.5 L181.0,453.7 L180.9,454.0 L181.1,454.5 L181.2,455.0 L181.4,455.6 L181.5,456.1 L181.6,456.7 L181.7,457.3 L181.8,457.9 L181.7,458.4 L181.5,458.6 L181.3,458.9 L181.1,459.1 L180.9,459.4 L180.7,459.6 L180.4,459.8 L180.2,460.0 L180.0,460.3 L179.8,460.5 L179.5,460.7 L179.2,460.6 L178.8,460.4 L178.4,460.1 L178.0,459.8 L177.7,459.5 L177.3,459.2 L177.0,458.8 L176.7,458.5 L176.5,458.5 L176.3,458.6 L176.1,458.7 L175.9,458.8 L175.7,458.9 L175.5,459.1 L175.4,459.6 L175.3,460.2 L175.1,460.8 L174.9,461.4 L174.7,462.0 L174.5,462.6 L174.2,463.1 L174.0,463.5 L173.7,463.5 L173.4,463.6 L173.2,463.6 L172.9,463.6 L172.6,463.6 L172.4,463.6 L172.1,463.6 L171.9,463.6 L171.6,463.6 L171.4,463.6 L171.1,463.2 L171.0,462.7 L170.9,462.1 L170.8,461.5 L170.7,461.0 L170.6,460.4 L170.5,459.8 L170.5,459.2 L170.3,459.1 L170.2,459.0 L170.0,458.9 L169.8,458.8 L169.6,458.7 L169.4,458.7 L169.1,459.1 L168.7,459.5 L168.3,459.8 L167.9,460.1 L167.4,460.4 L167.0,460.7 L166.6,461.0 L166.2,461.1 L166.0,460.9 L165.8,460.7 L165.6,460.5 L165.5,460.3 L165.3,460.1 L165.1,459.8 L164.9,459.6 L164.8,459.4 L164.6,459.1 L164.4,458.9 L164.4,458.4 L164.6,457.8 L164.8,457.2 L165.0,456.6 L165.2,456.1 L165.4,455.5 L165.7,455.0 L165.9,454.4 L165.9,454.2 L165.8,453.9 L165.7,453.7 L165.6,453.5 L165.6,453.3 L165.5,453.1 L165.0,453.1 L164.6,453.0 L164.2,453.0 L163.7,452.9 L163.3,452.8 L162.8,452.7 L162.4,452.5 L162.1,452.3 L162.1,452.0 L162.1,451.6 L162.0,451.3 L162.0,450.9 L162.0,450.6 L162.0,450.2 L162.0,449.9 L162.0,449.5 L162.0,449.2 L162.0,448.8 L162.2,448.5 L162.6,448.1 L163.0,447.7 L163.5,447.4 L163.9,447.1 L164.3,446.8 L164.7,446.6 L165.1,446.3 L165.2,446.1 L165.3,445.8 L165.3,445.6 L165.4,445.3 L165.5,445.0 L165.5,444.8 L165.2,444.4 L164.9,444.0 L164.6,443.5 L164.4,443.1 L164.1,442.6 L163.9,442.1 L163.7,441.6 L163.6,441.2 L163.7,440.9 L163.9,440.6 L164.0,440.2 L164.2,439.9 L164.3,439.6 L164.5,439.3 L164.6,439.0 L164.8,438.7 L165.0,438.4 L165.2,438.1 L165.5,438.0 L166.0,438.0 L166.4,438.1 L166.8,438.2 L167.3,438.3 L167.7,438.4 L168.1,438.6 L168.5,438.8 L168.7,438.6 L168.8,438.4 L169.0,438.3 L169.2,438.1 L169.3,437.9 L169.5,437.7 L169.5,437.1 L169.5,436.5 L169.5,435.9 L169.5,435.3 L169.6,434.7 L169.7,434.1 L169.8,433.4 L169.9,433.0 L170.2,432.9 L170.4,432.7 L170.7,432.6 L170.9,432.4 L171.2,432.3 L171.4,432.2 L171.7,432.0 L172.0,431.9 L172.2,431.8 L172.5,431.7 L172.8,431.9 L173.0,432.4 L173.3,432.8 L173.6,433.3 L173.8,433.7 L174.0,434.2 L174.2,434.7 L174.4,435.2 L174.6,435.3 L174.8,435.2 L175.0,435.2 L175.2,435.2 L175.4,435.2 L175.6,435.2 L175.9,434.7 L176.2,434.2 L176.5,433.7 L176.8,433.2 L177.1,432.7 L177.5,432.2 L177.8,431.8 L178.2,431.6 L178.4,431.6 L178.6,431.7 L178.9,431.8 L179.1,431.9 L179.4,432.0 L179.6,432.1 L179.8,432.3 L180.1,432.4 L180.3,432.5 L180.5,432.7 L180.6,433.1 L180.6,433.7 L180.6,434.4 L180.5,435.0 L180.4,435.6 L180.4,436.2 L180.3,436.8 L180.2,437.4 L180.3,437.6 L180.4,437.7 L180.5,437.9 L180.7,438.1 L180.8,438.2 L181.0,438.4 L181.4,438.2 L181.8,438.0 L182.3,437.8 L182.7,437.7 L183.2,437.6 L183.7,437.5 L184.1,437.4 L184.4,437.5 L184.6,437.8 L184.7,438.1 L184.8,438.4 L184.9,438.7 L185.0,439.0 L185.1,439.3 L185.2,439.6 L185.3,439.9 L185.4,440.2 L185.5,440.5 L185.4,441.0 L185.0,441.5 L184.7,442.0 L184.4,442.5 L184.1,442.9 L183.7,443.4 L183.4,443.8 L183.0,444.2 L183.0,444.5 L183.0,444.8 L183.0,445.0 L183.0,445.3 L183.0,445.5 L183.1,445.8 L183.5,446.0 L183.8,446.2 L184.2,446.5 L184.6,446.8 L185.0,447.1 L185.3,447.4 L185.7,447.7 L185.8,448.1 L185.8,448.4 L185.7,448.8 L185.7,449.2 L185.6,449.5 Z" fill="#fff" stroke="#111" stroke-width="1.56" stroke-linejoin="round" stroke-linecap="round"/>
<ellipse cx="177.5" cy="448.4" rx="5.6" ry="7.6" transform="rotate(12 177.5 448.4)" fill="#fff" stroke="#111" stroke-width="1.3"/>
<ellipse cx="180.2" cy="449.2" rx="4.3" ry="6.0" transform="rotate(12 180.2 449.2)" fill="#fff" stroke="#111" stroke-width="1.95"/>
<ellipse cx="180.4" cy="449.2" rx="2.0" ry="3.2" transform="rotate(12 180.4 449.2)" fill="none" stroke="#111" stroke-width="1.69"/>
<line x1="118.2" y1="417.0" x2="118.9" y2="424.8" stroke="#111" stroke-width="2.69"/>
<path d="M118.9,424.8 Q117.6,427.5 117.7,430.1" fill="none" stroke="#111" stroke-width="1.99" stroke-linejoin="round" stroke-linecap="round"/>
<path d="M118.9,424.8 Q120.7,427.3 121.1,429.8" fill="none" stroke="#111" stroke-width="1.99" stroke-linejoin="round" stroke-linecap="round"/>
<ellipse cx="118.3" cy="417.6" rx="1.1" ry="1.1" transform="rotate(0 118.3 417.6)" fill="#111" stroke="#111" stroke-width="1.04"/>
<ellipse cx="136.0" cy="431.4" rx="2.3" ry="3.3" transform="rotate(18 136.0 431.4)" fill="none" stroke="#111" stroke-width="2.47"/>
<ellipse cx="145.2" cy="434.6" rx="2.3" ry="3.3" transform="rotate(18 145.2 434.6)" fill="none" stroke="#111" stroke-width="2.47"/>
<path d="M211.3,439.6 L242.6,452.1 L241.4,460.2 L210.1,447.6 Q207.0,442.5 211.3,439.6 Z" fill="#fff" stroke="#111" stroke-width="1.3" stroke-linejoin="round" stroke-linecap="round"/>
<ellipse cx="242.1" cy="456.2" rx="2.3" ry="4.0" transform="rotate(18 242.1 456.2)" fill="#fff" stroke="#111" stroke-width="1.43"/>
<path d="M250.2,455.7 L281.5,468.2 L280.2,475.7 L248.9,462.7 Q246.5,458.5 250.2,455.7 Z" fill="#fff" stroke="#111" stroke-width="1.3" stroke-linejoin="round" stroke-linecap="round"/>
<ellipse cx="281.0" cy="472.1" rx="2.3" ry="3.8" transform="rotate(18 281.0 472.1)" fill="#fff" stroke="#111" stroke-width="1.43"/>
<path d="M192.5,451.4 L256.4,476.5 L254.7,483.5 L191.3,457.6 Q188.8,453.8 192.5,451.4 Z" fill="#fff" stroke="#111" stroke-width="1.3" stroke-linejoin="round" stroke-linecap="round"/>
<ellipse cx="255.7" cy="480.1" rx="2.0" ry="3.4" transform="rotate(18 255.7 480.1)" fill="#fff" stroke="#111" stroke-width="1.43"/>
<ellipse cx="192.3" cy="454.6" rx="0.8" ry="1.2" transform="rotate(0 192.3 454.6)" fill="#111" stroke="#111" stroke-width="0.78"/>
<ellipse cx="253.0" cy="479.2" rx="0.7" ry="1.0" transform="rotate(0 253.0 479.2)" fill="#111" stroke="#111" stroke-width="0.78"/>
<ellipse cx="270.2" cy="486.5" rx="2.3" ry="3.3" transform="rotate(18 270.2 486.5)" fill="none" stroke="#111" stroke-width="2.47"/>
<ellipse cx="279.0" cy="489.7" rx="2.3" ry="3.3" transform="rotate(18 279.0 489.7)" fill="none" stroke="#111" stroke-width="2.47"/>
<line x1="289.8" y1="488.0" x2="290.4" y2="494.6" stroke="#111" stroke-width="2.69"/>
<path d="M290.4,494.6 Q289.1,496.9 289.1,499.1" fill="none" stroke="#111" stroke-width="1.99" stroke-linejoin="round" stroke-linecap="round"/>
<path d="M290.4,494.6 Q292.1,496.7 292.5,498.8" fill="none" stroke="#111" stroke-width="1.99" stroke-linejoin="round" stroke-linecap="round"/>
<ellipse cx="289.9" cy="488.6" rx="1.1" ry="1.1" transform="rotate(0 289.9 488.6)" fill="#111" stroke="#111" stroke-width="1.04"/>
<path d="M116.6,489.4 L118.6,487.0 L121.0,488.2 L120.4,491.0 Z" fill="#fff" stroke="#111" stroke-width="1.3" stroke-linejoin="round" stroke-linecap="round"/>
<ellipse cx="121.6" cy="492.4" rx="4.2" ry="6.2" transform="rotate(15 121.6 492.4)" fill="#fff" stroke="#111" stroke-width="1.43"/>
<path d="M123.0,486.4 L128.5,488.0 M119.6,498.2 L125.0,500.4" fill="none" stroke="#111" stroke-width="1.3" stroke-linejoin="round" stroke-linecap="round"/>
<ellipse cx="126.6" cy="494.2" rx="4.4" ry="6.3" transform="rotate(15 126.6 494.2)" fill="#fff" stroke="#111" stroke-width="2.6"/>
<ellipse cx="127.0" cy="494.3" rx="2.2" ry="3.6" transform="rotate(15 127.0 494.3)" fill="none" stroke="#111" stroke-width="1.82"/>
<ellipse cx="143.4" cy="502.0" rx="6.3" ry="8.8" transform="rotate(15 143.4 502.0)" fill="#fff" stroke="#111" stroke-width="1.56"/>
<ellipse cx="144.3" cy="502.3" rx="6.3" ry="8.8" transform="rotate(15 144.3 502.3)" fill="#fff" stroke="#111" stroke-width="1.69"/>
<ellipse cx="143.9" cy="502.8" rx="1.9" ry="2.8" transform="rotate(15 143.9 502.8)" fill="none" stroke="#111" stroke-width="1.43"/>
<path d="M158.0,501.0 L161.0,499.2 L165.0,501.2 L164.6,503.8 L158.0,503.4 Z" fill="#fff" stroke="#111" stroke-width="1.3" stroke-linejoin="round" stroke-linecap="round"/>
<line x1="161.0" y1="499.2" x2="161.0" y2="502.2" stroke="#111" stroke-width="0.91"/>
<ellipse cx="158.8" cy="508.6" rx="4.6" ry="7.0" transform="rotate(15 158.8 508.6)" fill="#fff" stroke="#111" stroke-width="2.47"/>
<path d="M160.6,501.8 L166.0,503.4 M156.8,515.4 L162.4,517.2" fill="none" stroke="#111" stroke-width="1.3" stroke-linejoin="round" stroke-linecap="round"/>
<ellipse cx="164.3" cy="510.2" rx="4.5" ry="6.9" transform="rotate(15 164.3 510.2)" fill="#fff" stroke="#111" stroke-width="2.08"/>
<ellipse cx="164.7" cy="510.4" rx="2.2" ry="3.9" transform="rotate(15 164.7 510.4)" fill="none" stroke="#111" stroke-width="1.43"/>
<path d="M201.3,523.7 L201.2,524.0 L201.2,524.3 L201.1,524.7 L201.0,525.0 L200.9,525.3 L200.6,525.6 L200.1,525.7 L199.6,525.8 L199.0,525.9 L198.5,526.0 L198.0,526.1 L197.5,526.1 L197.4,526.4 L197.3,526.7 L197.2,526.9 L197.1,527.2 L197.0,527.4 L196.8,527.7 L196.7,527.9 L196.6,528.2 L196.8,528.6 L197.0,529.2 L197.2,529.8 L197.4,530.4 L197.6,531.0 L197.8,531.6 L197.7,531.9 L197.5,532.2 L197.4,532.5 L197.2,532.8 L197.0,533.0 L196.8,533.3 L196.6,533.5 L196.4,533.8 L196.2,534.0 L196.0,534.3 L195.8,534.5 L195.6,534.7 L195.1,534.5 L194.6,534.3 L194.1,534.0 L193.7,533.8 L193.2,533.5 L192.8,533.3 L192.7,533.5 L192.5,533.7 L192.3,533.8 L192.1,534.0 L191.9,534.2 L191.7,534.3 L191.5,534.5 L191.3,534.7 L191.3,535.3 L191.3,535.9 L191.3,536.6 L191.2,537.3 L191.2,538.0 L191.1,538.7 L190.9,539.0 L190.6,539.1 L190.4,539.3 L190.2,539.4 L189.9,539.6 L189.7,539.7 L189.4,539.8 L189.2,540.0 L188.9,540.1 L188.7,540.2 L188.4,540.3 L188.1,540.3 L187.8,539.8 L187.5,539.3 L187.2,538.8 L186.9,538.3 L186.7,537.7 L186.4,537.3 L186.2,537.4 L186.0,537.4 L185.8,537.5 L185.6,537.5 L185.4,537.6 L185.1,537.6 L184.9,537.6 L184.7,537.7 L184.5,538.2 L184.2,538.9 L184.0,539.5 L183.7,540.1 L183.4,540.8 L183.1,541.4 L182.8,541.5 L182.5,541.5 L182.3,541.5 L182.0,541.5 L181.8,541.5 L181.5,541.5 L181.3,541.5 L181.0,541.4 L180.8,541.4 L180.5,541.4 L180.3,541.3 L180.1,541.1 L180.0,540.4 L179.9,539.8 L179.9,539.1 L179.8,538.4 L179.8,537.8 L179.8,537.2 L179.6,537.1 L179.4,537.0 L179.2,537.0 L179.0,536.9 L178.8,536.8 L178.6,536.7 L178.4,536.6 L178.3,536.5 L177.9,536.9 L177.4,537.3 L177.0,537.8 L176.5,538.2 L176.1,538.6 L175.6,539.1 L175.3,539.0 L175.1,538.9 L174.9,538.7 L174.7,538.6 L174.5,538.4 L174.3,538.2 L174.1,538.0 L173.9,537.8 L173.7,537.7 L173.5,537.5 L173.4,537.3 L173.3,537.0 L173.4,536.3 L173.6,535.6 L173.8,534.9 L174.0,534.2 L174.2,533.6 L174.4,533.0 L174.3,532.8 L174.2,532.6 L174.0,532.4 L173.9,532.2 L173.8,532.0 L173.7,531.8 L173.6,531.6 L173.4,531.4 L173.0,531.5 L172.5,531.7 L171.9,531.9 L171.4,532.0 L170.9,532.1 L170.3,532.2 L170.1,532.0 L170.0,531.7 L169.9,531.5 L169.8,531.2 L169.7,530.9 L169.6,530.6 L169.5,530.3 L169.4,530.0 L169.3,529.7 L169.3,529.4 L169.2,529.1 L169.2,528.8 L169.6,528.2 L170.0,527.7 L170.4,527.2 L170.8,526.6 L171.2,526.1 L171.6,525.7 L171.5,525.4 L171.5,525.2 L171.5,524.9 L171.4,524.6 L171.4,524.4 L171.4,524.1 L171.4,523.8 L171.4,523.6 L170.9,523.4 L170.5,523.3 L170.0,523.1 L169.5,522.9 L169.0,522.7 L168.5,522.4 L168.4,522.1 L168.5,521.8 L168.5,521.5 L168.5,521.1 L168.5,520.8 L168.5,520.5 L168.6,520.1 L168.6,519.8 L168.6,519.5 L168.7,519.1 L168.7,518.8 L168.9,518.5 L169.4,518.2 L169.9,517.9 L170.4,517.6 L170.9,517.4 L171.5,517.2 L171.9,517.0 L172.0,516.7 L172.0,516.4 L172.1,516.1 L172.2,515.9 L172.2,515.6 L172.3,515.3 L172.4,515.0 L172.5,514.8 L172.2,514.4 L171.9,513.9 L171.5,513.5 L171.2,513.0 L170.9,512.5 L170.6,512.0 L170.6,511.6 L170.8,511.3 L170.9,511.0 L171.0,510.7 L171.2,510.4 L171.3,510.1 L171.5,509.8 L171.6,509.5 L171.8,509.2 L171.9,508.9 L172.1,508.6 L172.3,508.3 L172.8,508.4 L173.4,508.4 L173.9,508.5 L174.4,508.6 L174.9,508.7 L175.3,508.8 L175.5,508.5 L175.6,508.3 L175.8,508.1 L175.9,507.9 L176.1,507.7 L176.3,507.5 L176.4,507.2 L176.6,507.0 L176.5,506.5 L176.4,505.8 L176.3,505.2 L176.2,504.5 L176.1,503.9 L176.1,503.2 L176.2,502.9 L176.4,502.6 L176.7,502.4 L176.9,502.2 L177.1,502.0 L177.3,501.8 L177.6,501.6 L177.8,501.4 L178.0,501.2 L178.2,501.0 L178.5,500.8 L178.8,500.8 L179.2,501.1 L179.6,501.5 L180.0,501.9 L180.3,502.3 L180.7,502.7 L181.0,503.0 L181.2,502.9 L181.5,502.8 L181.7,502.7 L181.9,502.5 L182.1,502.4 L182.3,502.3 L182.5,502.2 L182.7,502.1 L182.8,501.5 L183.0,500.9 L183.1,500.2 L183.3,499.5 L183.5,498.8 L183.7,498.1 L183.9,497.9 L184.2,497.8 L184.4,497.8 L184.7,497.7 L184.9,497.6 L185.2,497.6 L185.4,497.5 L185.7,497.5 L186.0,497.4 L186.2,497.4 L186.5,497.3 L186.7,497.5 L186.9,498.1 L187.1,498.7 L187.3,499.3 L187.5,499.9 L187.6,500.5 L187.8,501.0 L188.0,501.0 L188.2,501.0 L188.4,501.0 L188.6,501.1 L188.8,501.1 L189.0,501.1 L189.2,501.1 L189.4,501.2 L189.7,500.7 L190.1,500.1 L190.5,499.6 L190.9,499.0 L191.3,498.5 L191.7,498.0 L191.9,497.9 L192.2,498.0 L192.4,498.1 L192.6,498.1 L192.9,498.2 L193.1,498.3 L193.3,498.4 L193.6,498.6 L193.8,498.7 L194.0,498.8 L194.2,498.9 L194.4,499.2 L194.3,499.9 L194.3,500.6 L194.2,501.3 L194.1,502.0 L194.0,502.6 L194.0,503.2 L194.1,503.4 L194.3,503.5 L194.4,503.6 L194.6,503.8 L194.8,503.9 L194.9,504.1 L195.1,504.2 L195.2,504.4 L195.7,504.1 L196.2,503.8 L196.7,503.5 L197.2,503.2 L197.7,502.9 L198.2,502.7 L198.5,502.8 L198.6,503.0 L198.8,503.2 L198.9,503.5 L199.1,503.7 L199.2,503.9 L199.4,504.2 L199.5,504.4 L199.7,504.7 L199.8,504.9 L199.9,505.2 L200.0,505.5 L199.7,506.2 L199.4,506.8 L199.1,507.4 L198.8,508.0 L198.4,508.6 L198.2,509.2 L198.3,509.4 L198.3,509.6 L198.4,509.9 L198.5,510.1 L198.6,510.3 L198.7,510.6 L198.7,510.8 L198.8,511.1 L199.2,511.1 L199.8,511.1 L200.3,511.1 L200.8,511.1 L201.3,511.2 L201.8,511.2 L202.0,511.5 L202.1,511.8 L202.1,512.1 L202.1,512.4 L202.2,512.8 L202.2,513.1 L202.3,513.4 L202.3,513.7 L202.3,514.0 L202.3,514.4 L202.3,514.7 L202.2,515.1 L201.8,515.5 L201.3,515.9 L200.8,516.3 L200.4,516.7 L199.9,517.1 L199.5,517.4 L199.5,517.7 L199.4,518.0 L199.4,518.2 L199.4,518.5 L199.4,518.8 L199.3,519.1 L199.3,519.4 L199.3,519.6 L199.6,519.9 L200.1,520.2 L200.5,520.6 L200.9,520.9 L201.3,521.3 L201.7,521.7 L201.7,522.0 L201.7,522.4 L201.6,522.7 L201.5,523.0 L201.4,523.3 Z" fill="#fff" stroke="#111" stroke-width="1.3" stroke-linejoin="round" stroke-linecap="round"/>
<path d="M202.8,524.1 L202.7,524.4 L202.7,524.7 L202.6,525.1 L202.5,525.4 L202.4,525.7 L202.1,526.0 L201.6,526.1 L201.1,526.2 L200.5,526.3 L200.0,526.4 L199.5,526.5 L199.0,526.5 L198.9,526.8 L198.8,527.1 L198.7,527.3 L198.6,527.6 L198.5,527.8 L198.3,528.1 L198.2,528.3 L198.1,528.6 L198.3,529.0 L198.5,529.6 L198.7,530.2 L198.9,530.8 L199.1,531.4 L199.3,532.0 L199.2,532.3 L199.0,532.6 L198.9,532.9 L198.7,533.2 L198.5,533.4 L198.3,533.7 L198.1,533.9 L197.9,534.2 L197.7,534.4 L197.5,534.7 L197.3,534.9 L197.1,535.1 L196.6,534.9 L196.1,534.7 L195.6,534.4 L195.2,534.2 L194.7,533.9 L194.3,533.7 L194.2,533.9 L194.0,534.1 L193.8,534.2 L193.6,534.4 L193.4,534.6 L193.2,534.7 L193.0,534.9 L192.8,535.1 L192.8,535.7 L192.8,536.3 L192.8,537.0 L192.7,537.7 L192.7,538.4 L192.6,539.1 L192.4,539.4 L192.1,539.5 L191.9,539.7 L191.7,539.8 L191.4,540.0 L191.2,540.1 L190.9,540.2 L190.7,540.4 L190.4,540.5 L190.2,540.6 L189.9,540.7 L189.6,540.7 L189.3,540.2 L189.0,539.7 L188.7,539.2 L188.4,538.7 L188.2,538.1 L187.9,537.7 L187.7,537.8 L187.5,537.8 L187.3,537.9 L187.1,537.9 L186.9,538.0 L186.6,538.0 L186.4,538.0 L186.2,538.1 L186.0,538.6 L185.7,539.3 L185.5,539.9 L185.2,540.5 L184.9,541.2 L184.6,541.8 L184.3,541.9 L184.0,541.9 L183.8,541.9 L183.5,541.9 L183.3,541.9 L183.0,541.9 L182.8,541.9 L182.5,541.8 L182.3,541.8 L182.0,541.8 L181.8,541.7 L181.6,541.5 L181.5,540.8 L181.4,540.2 L181.4,539.5 L181.3,538.8 L181.3,538.2 L181.3,537.6 L181.1,537.5 L180.9,537.4 L180.7,537.4 L180.5,537.3 L180.3,537.2 L180.1,537.1 L179.9,537.0 L179.8,536.9 L179.4,537.3 L178.9,537.7 L178.5,538.2 L178.0,538.6 L177.6,539.0 L177.1,539.5 L176.8,539.4 L176.6,539.3 L176.4,539.1 L176.2,539.0 L176.0,538.8 L175.8,538.6 L175.6,538.4 L175.4,538.2 L175.2,538.1 L175.0,537.9 L174.9,537.7 L174.8,537.4 L174.9,536.7 L175.1,536.0 L175.3,535.3 L175.5,534.6 L175.7,534.0 L175.9,533.4 L175.8,533.2 L175.7,533.0 L175.5,532.8 L175.4,532.6 L175.3,532.4 L175.2,532.2 L175.1,532.0 L174.9,531.8 L174.5,531.9 L174.0,532.1 L173.4,532.3 L172.9,532.4 L172.4,532.5 L171.8,532.6 L171.6,532.4 L171.5,532.1 L171.4,531.9 L171.3,531.6 L171.2,531.3 L171.1,531.0 L171.0,530.7 L170.9,530.4 L170.8,530.1 L170.8,529.8 L170.7,529.5 L170.7,529.2 L171.1,528.6 L171.5,528.1 L171.9,527.6 L172.3,527.0 L172.7,526.5 L173.1,526.1 L173.0,525.8 L173.0,525.6 L173.0,525.3 L172.9,525.0 L172.9,524.8 L172.9,524.5 L172.9,524.2 L172.9,524.0 L172.4,523.8 L172.0,523.7 L171.5,523.5 L171.0,523.3 L170.5,523.1 L170.0,522.8 L169.9,522.5 L170.0,522.2 L170.0,521.9 L170.0,521.5 L170.0,521.2 L170.0,520.9 L170.1,520.5 L170.1,520.2 L170.1,519.9 L170.2,519.5 L170.2,519.2 L170.4,518.9 L170.9,518.6 L171.4,518.3 L171.9,518.0 L172.4,517.8 L173.0,517.6 L173.4,517.4 L173.5,517.1 L173.5,516.8 L173.6,516.5 L173.7,516.3 L173.7,516.0 L173.8,515.7 L173.9,515.4 L174.0,515.2 L173.7,514.8 L173.4,514.3 L173.0,513.9 L172.7,513.4 L172.4,512.9 L172.1,512.4 L172.1,512.0 L172.3,511.7 L172.4,511.4 L172.5,511.1 L172.7,510.8 L172.8,510.5 L173.0,510.2 L173.1,509.9 L173.3,509.6 L173.4,509.3 L173.6,509.0 L173.8,508.7 L174.3,508.8 L174.9,508.8 L175.4,508.9 L175.9,509.0 L176.4,509.1 L176.8,509.2 L177.0,508.9 L177.1,508.7 L177.3,508.5 L177.4,508.3 L177.6,508.1 L177.8,507.9 L177.9,507.6 L178.1,507.4 L178.0,506.9 L177.9,506.2 L177.8,505.6 L177.7,504.9 L177.6,504.3 L177.6,503.6 L177.7,503.3 L177.9,503.0 L178.2,502.8 L178.4,502.6 L178.6,502.4 L178.8,502.2 L179.1,502.0 L179.3,501.8 L179.5,501.6 L179.7,501.4 L180.0,501.2 L180.3,501.2 L180.7,501.5 L181.1,501.9 L181.5,502.3 L181.8,502.7 L182.2,503.1 L182.5,503.4 L182.7,503.3 L183.0,503.2 L183.2,503.1 L183.4,502.9 L183.6,502.8 L183.8,502.7 L184.0,502.6 L184.2,502.5 L184.3,501.9 L184.5,501.3 L184.6,500.6 L184.8,499.9 L185.0,499.2 L185.2,498.5 L185.4,498.3 L185.7,498.2 L185.9,498.2 L186.2,498.1 L186.4,498.0 L186.7,498.0 L186.9,497.9 L187.2,497.9 L187.5,497.8 L187.7,497.8 L188.0,497.7 L188.2,497.9 L188.4,498.5 L188.6,499.1 L188.8,499.7 L189.0,500.3 L189.1,500.9 L189.3,501.4 L189.5,501.4 L189.7,501.4 L189.9,501.4 L190.1,501.5 L190.3,501.5 L190.5,501.5 L190.7,501.5 L190.9,501.6 L191.2,501.1 L191.6,500.5 L192.0,500.0 L192.4,499.4 L192.8,498.9 L193.2,498.4 L193.4,498.3 L193.7,498.4 L193.9,498.5 L194.1,498.5 L194.4,498.6 L194.6,498.7 L194.8,498.8 L195.1,499.0 L195.3,499.1 L195.5,499.2 L195.7,499.3 L195.9,499.6 L195.8,500.3 L195.8,501.0 L195.7,501.7 L195.6,502.4 L195.5,503.0 L195.5,503.6 L195.6,503.8 L195.8,503.9 L195.9,504.0 L196.1,504.2 L196.3,504.3 L196.4,504.5 L196.6,504.6 L196.7,504.8 L197.2,504.5 L197.7,504.2 L198.2,503.9 L198.7,503.6 L199.2,503.3 L199.7,503.1 L200.0,503.2 L200.1,503.4 L200.3,503.6 L200.4,503.9 L200.6,504.1 L200.7,504.3 L200.9,504.6 L201.0,504.8 L201.2,505.1 L201.3,505.3 L201.4,505.6 L201.5,505.9 L201.2,506.6 L200.9,507.2 L200.6,507.8 L200.3,508.4 L199.9,509.0 L199.7,509.6 L199.8,509.8 L199.8,510.0 L199.9,510.3 L200.0,510.5 L200.1,510.7 L200.2,511.0 L200.2,511.2 L200.3,511.5 L200.7,511.5 L201.3,511.5 L201.8,511.5 L202.3,511.5 L202.8,511.6 L203.3,511.6 L203.5,511.9 L203.6,512.2 L203.6,512.5 L203.6,512.8 L203.7,513.2 L203.7,513.5 L203.8,513.8 L203.8,514.1 L203.8,514.4 L203.8,514.8 L203.8,515.1 L203.7,515.5 L203.3,515.9 L202.8,516.3 L202.3,516.7 L201.9,517.1 L201.4,517.5 L201.0,517.8 L201.0,518.1 L200.9,518.4 L200.9,518.6 L200.9,518.9 L200.9,519.2 L200.8,519.5 L200.8,519.8 L200.8,520.0 L201.1,520.3 L201.6,520.6 L202.0,521.0 L202.4,521.3 L202.8,521.7 L203.2,522.1 L203.2,522.4 L203.2,522.8 L203.1,523.1 L203.0,523.4 L202.9,523.7 Z" fill="#fff" stroke="#111" stroke-width="1.56" stroke-linejoin="round" stroke-linecap="round"/>
<ellipse cx="191.6" cy="522.2" rx="7.0" ry="8.6" transform="rotate(15 191.6 522.2)" fill="#fff" stroke="#111" stroke-width="1.43"/>
<ellipse cx="194.0" cy="523.0" rx="4.6" ry="6.2" transform="rotate(15 194.0 523.0)" fill="#fff" stroke="#111" stroke-width="1.43"/>
<ellipse cx="194.2" cy="523.1" rx="2.2" ry="3.4" transform="rotate(15 194.2 523.1)" fill="none" stroke="#111" stroke-width="2.08"/>
<ellipse cx="186.7" cy="523.0" rx="0.9" ry="1.1" transform="rotate(0 186.7 523.0)" fill="#111" stroke="#111" stroke-width="1.04"/>
<path d="M176.8,509.5 L179.4,508.5 L179.7,511.5 L177.1,512.5 Z" fill="none" stroke="#111" stroke-width="1.04" stroke-linejoin="round" stroke-linecap="round"/>
<path d="M173.6,519.6 L176.2,518.6 L176.5,521.6 L173.9,522.6 Z" fill="none" stroke="#111" stroke-width="1.04" stroke-linejoin="round" stroke-linecap="round"/>
<path d="M173.2,529.6 L175.8,528.6 L176.1,531.6 L173.5,532.6 Z" fill="none" stroke="#111" stroke-width="1.04" stroke-linejoin="round" stroke-linecap="round"/>
<line x1="117.0" y1="524.2" x2="117.6" y2="531.4" stroke="#111" stroke-width="2.69"/>
<path d="M117.6,531.4 Q116.3,533.9 116.3,536.3" fill="none" stroke="#111" stroke-width="1.99" stroke-linejoin="round" stroke-linecap="round"/>
<path d="M117.6,531.4 Q119.3,533.7 119.7,536.0" fill="none" stroke="#111" stroke-width="1.99" stroke-linejoin="round" stroke-linecap="round"/>
<ellipse cx="117.0" cy="524.8" rx="1.1" ry="1.1" transform="rotate(0 117.0 524.8)" fill="#111" stroke="#111" stroke-width="1.04"/>
<path d="M146.9,533.2 L153.6,530.6" fill="none" stroke="#111" stroke-width="4.2" stroke-linecap="round" stroke-linejoin="round"/>
<path d="M146.9,533.2 L153.6,530.6" fill="none" stroke="#fff" stroke-width="2.0" stroke-linecap="round" stroke-linejoin="round"/>
<path d="M144.6,531.6 Q145.6,529.2 147.8,530.0 L150.0,534.2 Q149.4,536.6 147.0,536.2 Z" fill="#fff" stroke="#111" stroke-width="1.3" stroke-linejoin="round" stroke-linecap="round"/>
<path d="M206.9,525.2 L282.1,555.3 Q285.6,557.3 284.4,560.0 Q283.0,562.6 279.6,562.0 L206.1,532.8 Q203.2,528.5 206.9,525.2 Z" fill="#fff" stroke="#111" stroke-width="1.43" stroke-linejoin="round" stroke-linecap="round"/>
<line x1="210.6" y1="526.6" x2="209.2" y2="534.0" stroke="#111" stroke-width="1.17"/>
<path d="M274.2,552.2 L277.4,553.4 L275.8,560.6 L272.6,559.3 Z" fill="#111" stroke="#111" stroke-width="1.17" stroke-linejoin="round" stroke-linecap="round"/>
<path d="M238.2,542.1 L251.9,547.4 L251.5,549.6 L237.8,544.2 Z" fill="#555" stroke="#111" stroke-width="1.17" stroke-linejoin="round" stroke-linecap="round"/>
<path d="M221.0,550.6 L233.2,555.2 L232.8,557.4 L220.6,552.8 Z" fill="#555" stroke="#111" stroke-width="1.69" stroke-linejoin="round" stroke-linecap="round"/>
<path d="M294.3,557.4 L297.0,555.7 L301.0,557.4 L300.6,560.0 L294.3,559.6 Z" fill="#fff" stroke="#111" stroke-width="1.17" stroke-linejoin="round" stroke-linecap="round"/>
<ellipse cx="294.6" cy="564.8" rx="4.5" ry="6.9" transform="rotate(15 294.6 564.8)" fill="#fff" stroke="#111" stroke-width="1.69"/>
<path d="M296.4,558.2 L301.6,559.9 M292.8,571.5 L298.0,573.3" fill="none" stroke="#111" stroke-width="1.3" stroke-linejoin="round" stroke-linecap="round"/>
<ellipse cx="299.6" cy="566.6" rx="4.6" ry="6.9" transform="rotate(15 299.6 566.6)" fill="#fff" stroke="#111" stroke-width="1.69"/>
<ellipse cx="300.0" cy="566.8" rx="2.3" ry="4.0" transform="rotate(15 300.0 566.8)" fill="none" stroke="#111" stroke-width="1.43"/>
<ellipse cx="313.5" cy="571.7" rx="5.2" ry="8.6" transform="rotate(15 313.5 571.7)" fill="#999" stroke="#111" stroke-width="3.51"/>
<ellipse cx="313.6" cy="571.8" rx="2.9" ry="5.0" transform="rotate(15 313.6 571.8)" fill="#ccc" stroke="#111" stroke-width="1.17"/>
<ellipse cx="313.7" cy="571.8" rx="1.4" ry="2.5" transform="rotate(15 313.7 571.8)" fill="#eee" stroke="#111" stroke-width="1.04"/>
<ellipse cx="328.6" cy="578.0" rx="5.2" ry="6.6" transform="rotate(15 328.6 578.0)" fill="#fff" stroke="#111" stroke-width="2.86"/>
<ellipse cx="332.0" cy="579.2" rx="3.2" ry="4.2" transform="rotate(15 332.0 579.2)" fill="#fff" stroke="#111" stroke-width="2.21"/>
<ellipse cx="335.4" cy="584.0" rx="1.6" ry="1.6" transform="rotate(0 335.4 584.0)" fill="#fff" stroke="#111" stroke-width="1.69"/>
<ellipse cx="330.5" cy="581.5" rx="1.0" ry="1.0" transform="rotate(0 330.5 581.5)" fill="#111" stroke="#111" stroke-width="1.3"/>
<path d="M346.9,585.1 L352.5,579.4 L362.4,583.0 L363.1,591.4 L357.5,597.7 L346.9,594.2 Z" fill="#fff" stroke="#111" stroke-width="1.56" stroke-linejoin="round" stroke-linecap="round"/>
<path d="M352.5,579.4 L351.6,587.0 L352.4,596.0" fill="none" stroke="#111" stroke-width="1.17" stroke-linejoin="round" stroke-linecap="round"/>
<line x1="346.9" y1="585.1" x2="351.6" y2="587.0" stroke="#111" stroke-width="1.17"/>
<path d="M351.6,587.0 L355.0,582.0" fill="none" stroke="#111" stroke-width="0.91" stroke-linejoin="round" stroke-linecap="round"/>
<ellipse cx="357.6" cy="589.3" rx="2.9" ry="4.3" transform="rotate(12 357.6 589.3)" fill="none" stroke="#111" stroke-width="1.56"/>
<line x1="296.7" y1="581.8" x2="297.3" y2="589.0" stroke="#111" stroke-width="2.69"/>
<path d="M297.3,589.0 Q296.0,591.5 296.0,593.9" fill="none" stroke="#111" stroke-width="1.99" stroke-linejoin="round" stroke-linecap="round"/>
<path d="M297.3,589.0 Q299.0,591.3 299.4,593.6" fill="none" stroke="#111" stroke-width="1.99" stroke-linejoin="round" stroke-linecap="round"/>
<ellipse cx="296.7" cy="582.4" rx="1.1" ry="1.1" transform="rotate(0 296.7 582.4)" fill="#111" stroke="#111" stroke-width="1.04"/>
<path d="M568.5,322.3 L576.1,324.9 L575.7,329.9 L567.7,327.4 Q566.8,324.6 568.5,322.3 Z" fill="#fff" stroke="#111" stroke-width="1.3" stroke-linejoin="round" stroke-linecap="round"/>
<path d="M577.4,322.8 L582.9,324.0 L580.8,333.3 L575.7,332.0 Z" fill="#fff" stroke="#111" stroke-width="1.43" stroke-linejoin="round" stroke-linecap="round"/>
<line x1="579.7" y1="323.3" x2="578.0" y2="332.6" stroke="#111" stroke-width="1.04"/>
<line x1="581.4" y1="323.7" x2="579.5" y2="333.0" stroke="#111" stroke-width="0.91"/>
<path d="M504.9,480.3 L502.3,483.5 L498.3,482.7 L496.9,478.9 L499.5,475.7 L503.5,476.5 Z" fill="#333" stroke="#111" stroke-width="1.3" stroke-linejoin="round" stroke-linecap="round"/>
<ellipse cx="501.3" cy="479.8" rx="1.3" ry="1.5" transform="rotate(0 501.3 479.8)" fill="#999" stroke="#111" stroke-width="0.91"/>
<ellipse cx="508.9" cy="484.8" rx="3.2" ry="3.7" transform="rotate(-20 508.9 484.8)" fill="#fff" stroke="#111" stroke-width="2.21"/>
<ellipse cx="508.9" cy="484.8" rx="1.2" ry="1.5" transform="rotate(-20 508.9 484.8)" fill="#666" stroke="#111" stroke-width="1.17"/>
<path d="M517.3,491.7 Q518.8,489.6 520.8,491.2 L524.3,496.2 L521.3,497.8 Z" fill="#fff" stroke="#111" stroke-width="1.3" stroke-linejoin="round" stroke-linecap="round"/>
<path d="M521.3,497.0 Q524.5,494.2 527.1,496.2 Q528.3,498.6 525.3,500.8 Q522.7,501.4 521.3,497.0 Z" fill="#fff" stroke="#111" stroke-width="1.3" stroke-linejoin="round" stroke-linecap="round"/>
<path d="M540.8,492.0 L538.2,495.2 L534.2,494.4 L532.8,490.6 L535.4,487.4 L539.4,488.2 Z" fill="#333" stroke="#111" stroke-width="1.3" stroke-linejoin="round" stroke-linecap="round"/>
<ellipse cx="537.2" cy="491.5" rx="1.3" ry="1.5" transform="rotate(0 537.2 491.5)" fill="#999" stroke="#111" stroke-width="0.91"/>
<ellipse cx="545.5" cy="499.7" rx="3.2" ry="3.7" transform="rotate(-20 545.5 499.7)" fill="#fff" stroke="#111" stroke-width="2.21"/>
<ellipse cx="545.5" cy="499.7" rx="1.2" ry="1.5" transform="rotate(-20 545.5 499.7)" fill="#666" stroke="#111" stroke-width="1.17"/>
<path d="M552.4,504.2 Q553.9,502.1 555.9,503.7 L559.4,508.7 L556.4,510.3 Z" fill="#fff" stroke="#111" stroke-width="1.3" stroke-linejoin="round" stroke-linecap="round"/>
<path d="M556.4,509.5 Q559.6,506.7 562.2,508.7 Q563.4,511.1 560.4,513.3 Q557.8,513.9 556.4,509.5 Z" fill="#fff" stroke="#111" stroke-width="1.3" stroke-linejoin="round" stroke-linecap="round"/>
<path d="M488.9,495.7 L550.3,520.2 L545.3,536.5 L482.1,509.7 Z" fill="#fff" stroke="#111" stroke-width="1.56" stroke-linejoin="round" stroke-linecap="round"/>
<line x1="486.0" y1="501.0" x2="548.3" y2="526.6" stroke="#111" stroke-width="1.17"/>
<line x1="483.2" y1="507.8" x2="545.6" y2="533.4" stroke="#111" stroke-width="1.04"/>
<ellipse cx="498.1" cy="508.6" rx="1.1" ry="1.1" transform="rotate(0 498.1 508.6)" fill="#111" stroke="#111" stroke-width="0.91"/>
<ellipse cx="533.9" cy="523.3" rx="1.1" ry="1.1" transform="rotate(0 533.9 523.3)" fill="#111" stroke="#111" stroke-width="0.91"/>
<path d="M468.7,515.2 L530.7,540.8 L522.4,555.4 L459.8,529.4 Z" fill="#fff" stroke="#111" stroke-width="1.56" stroke-linejoin="round" stroke-linecap="round"/>
<ellipse cx="479.8" cy="523.6" rx="1.1" ry="1.1" transform="rotate(0 479.8 523.6)" fill="#111" stroke="#111" stroke-width="0.91"/>
<ellipse cx="515.8" cy="538.2" rx="1.1" ry="1.1" transform="rotate(0 515.8 538.2)" fill="#111" stroke="#111" stroke-width="0.91"/>
<line x1="288.9" y1="26.3" x2="262.6" y2="68.9" stroke="#111" stroke-width="1.04"/>
<line x1="309.7" y1="29.6" x2="294.7" y2="96.5" stroke="#111" stroke-width="1.04"/>
<line x1="324.0" y1="51.4" x2="317.7" y2="86.5" stroke="#111" stroke-width="1.04"/>
<line x1="238.6" y1="43.9" x2="242.3" y2="80.2" stroke="#111" stroke-width="1.04"/>
<line x1="173.9" y1="53.9" x2="226.8" y2="92.8" stroke="#111" stroke-width="1.04"/>
<line x1="140.3" y1="59.8" x2="207.7" y2="100.4" stroke="#111" stroke-width="1.04"/>
<line x1="123.9" y1="80.0" x2="174.1" y2="106.4" stroke="#111" stroke-width="1.04"/>
<line x1="99.6" y1="133.2" x2="152.8" y2="119.7" stroke="#111" stroke-width="1.04"/>
<line x1="237.6" y1="118.8" x2="223.8" y2="137.6" stroke="#111" stroke-width="1.04"/>
<line x1="319.8" y1="125.6" x2="277.7" y2="147.1" stroke="#111" stroke-width="1.04"/>
<line x1="289.7" y1="162.7" x2="256.4" y2="154.6" stroke="#111" stroke-width="1.04"/>
<line x1="272.7" y1="174.0" x2="246.4" y2="162.7" stroke="#111" stroke-width="1.04"/>
<line x1="133.2" y1="180.8" x2="181.6" y2="167.3" stroke="#111" stroke-width="1.04"/>
<line x1="232.1" y1="229.1" x2="224.0" y2="190.0" stroke="#111" stroke-width="1.04"/>
<line x1="81.3" y1="246.3" x2="139.0" y2="231.3" stroke="#111" stroke-width="1.04"/>
<line x1="113.9" y1="262.1" x2="152.8" y2="238.0" stroke="#111" stroke-width="1.04"/>
<line x1="146.5" y1="271.4" x2="165.3" y2="243.8" stroke="#111" stroke-width="1.04"/>
<line x1="241.4" y1="281.8" x2="279.7" y2="292.6" stroke="#111" stroke-width="1.04"/>
<line x1="117.7" y1="335.8" x2="168.3" y2="349.9" stroke="#111" stroke-width="1.04"/>
<line x1="112.6" y1="362.1" x2="167.8" y2="362.9" stroke="#111" stroke-width="1.04"/>
<line x1="121.4" y1="388.3" x2="168.2" y2="372.5" stroke="#111" stroke-width="1.04"/>
<line x1="645.3" y1="197.6" x2="542.0" y2="218.4" stroke="#111" stroke-width="1.04"/>
<line x1="628.5" y1="306.7" x2="583.2" y2="324.9" stroke="#111" stroke-width="1.04"/>
<line x1="199.9" y1="405.5" x2="179.8" y2="431.4" stroke="#111" stroke-width="1.04"/>
<line x1="230.9" y1="420.1" x2="227.1" y2="444.6" stroke="#111" stroke-width="1.04"/>
<line x1="233.1" y1="420.1" x2="260.2" y2="458.9" stroke="#111" stroke-width="1.04"/>
<line x1="85.8" y1="448.9" x2="118.2" y2="426.4" stroke="#111" stroke-width="1.04"/>
<line x1="112.1" y1="457.2" x2="134.7" y2="434.6" stroke="#111" stroke-width="1.04"/>
<line x1="134.5" y1="466.5" x2="144.7" y2="438.9" stroke="#111" stroke-width="1.04"/>
<line x1="230.3" y1="498.0" x2="216.8" y2="465.5" stroke="#111" stroke-width="1.04"/>
<line x1="90.1" y1="542.0" x2="118.9" y2="496.8" stroke="#111" stroke-width="1.04"/>
<line x1="103.9" y1="560.7" x2="116.4" y2="533.9" stroke="#111" stroke-width="1.04"/>
<line x1="128.2" y1="567.7" x2="147.2" y2="535.7" stroke="#111" stroke-width="1.04"/>
<line x1="158.5" y1="574.8" x2="182.3" y2="531.4" stroke="#111" stroke-width="1.04"/>
<line x1="212.4" y1="570.2" x2="225.5" y2="555.2" stroke="#111" stroke-width="1.04"/>
<line x1="246.0" y1="577.0" x2="268.8" y2="554.7" stroke="#111" stroke-width="1.04"/>
<line x1="272.2" y1="520.3" x2="269.0" y2="490.8" stroke="#111" stroke-width="1.04"/>
<line x1="316.0" y1="536.2" x2="299.3" y2="558.7" stroke="#111" stroke-width="1.04"/>
<line x1="345.3" y1="553.4" x2="319.7" y2="570.7" stroke="#111" stroke-width="1.04"/>
<line x1="380.4" y1="572.7" x2="334.0" y2="575.2" stroke="#111" stroke-width="1.04"/>
<line x1="411.7" y1="584.8" x2="362.8" y2="589.5" stroke="#111" stroke-width="1.04"/>
<line x1="649.3" y1="449.6" x2="540.5" y2="490.0" stroke="#111" stroke-width="1.04"/>
<line x1="654.3" y1="472.6" x2="549.5" y2="498.0" stroke="#111" stroke-width="1.04"/>
<line x1="666.1" y1="496.5" x2="562.5" y2="508.0" stroke="#111" stroke-width="1.04"/>
<line x1="630.5" y1="524.8" x2="548.5" y2="527.8" stroke="#111" stroke-width="1.04"/>
<line x1="621.0" y1="556.6" x2="523.0" y2="545.8" stroke="#111" stroke-width="1.04"/>
<g opacity="0.999" stroke="#111" stroke-width="0.25"><text transform="translate(292.7 24.9) scale(0.88 1)" font-size="10.6" text-anchor="middle">1</text>
<text transform="translate(310.7 25.4) scale(0.88 1)" font-size="10.6" text-anchor="middle">23</text>
<text transform="translate(327.3 48.4) scale(0.88 1)" font-size="10.6" text-anchor="middle">24</text>
<text transform="translate(236.3 40.4) scale(0.88 1)" font-size="10.6" text-anchor="middle">35</text>
<text transform="translate(169.0 53.1) scale(0.88 1)" font-size="10.6" text-anchor="middle">18</text>
<text transform="translate(132.7 58.2) scale(0.88 1)" font-size="10.6" text-anchor="middle">16</text>
<text transform="translate(117.7 79.1) scale(0.88 1)" font-size="10.6" text-anchor="middle">31</text>
<text transform="translate(91.3 139.3) scale(0.88 1)" font-size="10.6" text-anchor="middle">21</text>
<text transform="translate(240.9 117.1) scale(0.88 1)" font-size="10.6" text-anchor="middle">17</text>
<text transform="translate(327.3 126.3) scale(0.88 1)" font-size="10.6" text-anchor="middle">32</text>
<text transform="translate(295.3 166.7) scale(0.88 1)" font-size="10.6" text-anchor="middle">19</text>
<text transform="translate(277.7 178.0) scale(0.88 1)" font-size="10.6" text-anchor="middle">14</text>
<text transform="translate(124.7 186.9) scale(0.88 1)" font-size="10.6" text-anchor="middle">20</text>
<text transform="translate(232.2 237.7) scale(0.88 1)" font-size="10.6" text-anchor="middle">20</text>
<text transform="translate(73.0 250.4) scale(0.88 1)" font-size="10.6" text-anchor="middle">27</text>
<text transform="translate(106.4 268.7) scale(0.88 1)" font-size="10.6" text-anchor="middle">24</text>
<text transform="translate(140.7 280.0) scale(0.88 1)" font-size="10.6" text-anchor="middle">26</text>
<text transform="translate(237.2 284.8) scale(0.88 1)" font-size="10.6" text-anchor="middle">2</text>
<text transform="translate(109.4 336.9) scale(0.88 1)" font-size="10.6" text-anchor="middle">25</text>
<text transform="translate(103.9 364.4) scale(0.88 1)" font-size="10.6" text-anchor="middle">26</text>
<text transform="translate(113.7 391.7) scale(0.88 1)" font-size="10.6" text-anchor="middle">27</text>
<text transform="translate(651.8 199.7) scale(0.88 1)" font-size="10.6" text-anchor="middle">3</text>
<text transform="translate(634.8 308.2) scale(0.88 1)" font-size="10.6" text-anchor="middle">25</text>
<text transform="translate(203.4 402.8) scale(0.88 1)" font-size="10.6" text-anchor="middle">4</text>
<text transform="translate(231.5 416.8) scale(0.88 1)" font-size="10.6" text-anchor="middle">34</text>
<text transform="translate(80.8 458.5) scale(0.88 1)" font-size="10.6" text-anchor="middle">21</text>
<text transform="translate(107.6 465.5) scale(0.88 1)" font-size="10.6" text-anchor="middle">22</text>
<text transform="translate(130.9 474.3) scale(0.88 1)" font-size="10.6" text-anchor="middle">37</text>
<text transform="translate(233.7 506.3) scale(0.88 1)" font-size="10.6" text-anchor="middle">9</text>
<text transform="translate(86.3 551.1) scale(0.88 1)" font-size="10.6" text-anchor="middle">13</text>
<text transform="translate(100.1 569.3) scale(0.88 1)" font-size="10.6" text-anchor="middle">39</text>
<text transform="translate(123.9 576.3) scale(0.88 1)" font-size="10.6" text-anchor="middle">15</text>
<text transform="translate(154.8 583.1) scale(0.88 1)" font-size="10.6" text-anchor="middle">6</text>
<text transform="translate(207.4 577.6) scale(0.88 1)" font-size="10.6" text-anchor="middle">10</text>
<text transform="translate(242.0 585.5) scale(0.88 1)" font-size="10.6" text-anchor="middle">8</text>
<text transform="translate(275.4 529.6) scale(0.88 1)" font-size="10.6" text-anchor="middle">11</text>
<text transform="translate(319.6 533.3) scale(0.88 1)" font-size="10.6" text-anchor="middle">5</text>
<text transform="translate(349.8 553.7) scale(0.88 1)" font-size="10.6" text-anchor="middle">7</text>
<text transform="translate(385.9 575.5) scale(0.88 1)" font-size="10.6" text-anchor="middle">12</text>
<text transform="translate(418.5 587.6) scale(0.88 1)" font-size="10.6" text-anchor="middle">36</text>
<text transform="translate(656.6 450.9) scale(0.88 1)" font-size="10.6" text-anchor="middle">30</text>
<text transform="translate(661.1 474.2) scale(0.88 1)" font-size="10.6" text-anchor="middle">38</text>
<text transform="translate(673.1 499.3) scale(0.88 1)" font-size="10.6" text-anchor="middle">29</text>
<text transform="translate(637.3 528.1) scale(0.88 1)" font-size="10.6" text-anchor="middle">33</text>
<text transform="translate(626.5 560.2) scale(0.88 1)" font-size="10.6" text-anchor="middle">28</text></g>
<g filter="url(#gs)"><text transform="translate(212.5 640.6) scale(0.9775 1)" font-size="14.6" style="white-space:pre" xml:space="preserve" stroke="#111" stroke-width="0.2">Рис. 15  Секция нижняя</text></g>
<path d="M243,642.8 q1,-2.6 2,0 t2,0 t2,0 t2,0 t2,0 t2,0 t2,0 t2,0 t2,0 t2,0 t2,0 t2,0 t2,0 t2,0 t2,0 t2,0 t2,0 t2,0 t2,0 t2,0 t2,0 t2,0 t2,0 t2,0 t2,0 t2,0 t2,0 t2,0 t2,0 t2,0 t2,0 t2,0 t2,0 t2,0 t2,0" fill="none" stroke="#1c2ed8" stroke-width="1.0"/>
</svg>
</body></html>
